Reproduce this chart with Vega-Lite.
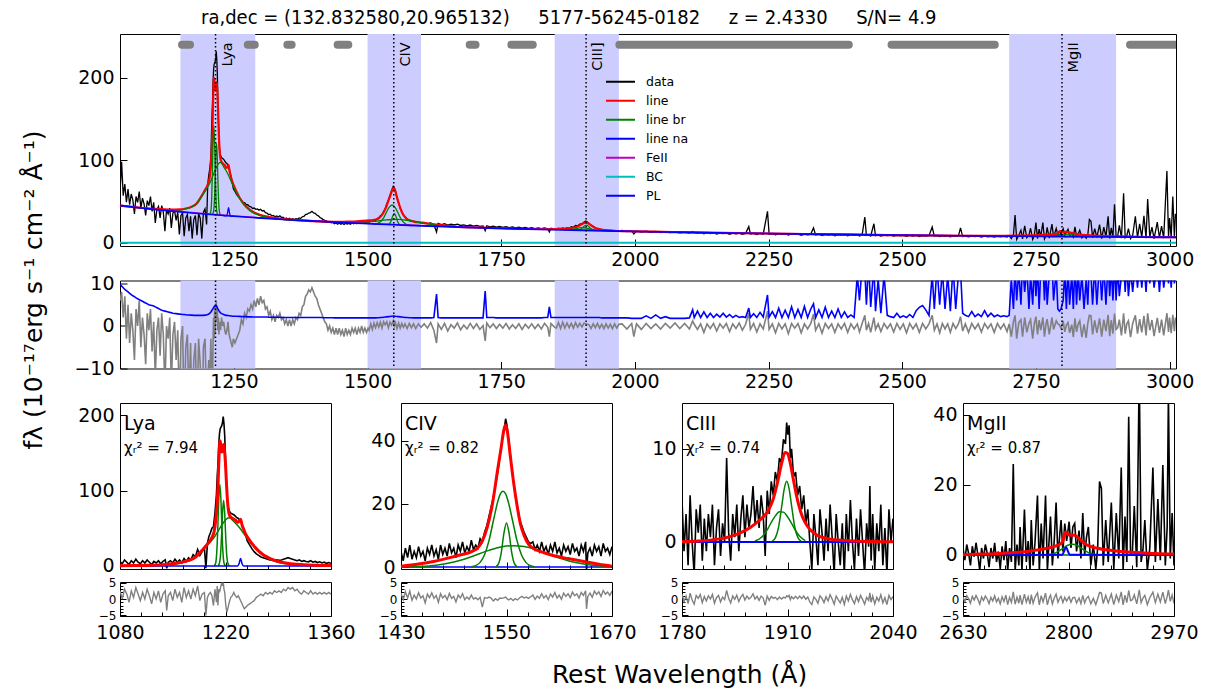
{
"$schema": "https://vega.github.io/schema/vega-lite/v6.json",
"background": "white",
"padding": {"left": 20, "top": 7, "right": 5, "bottom": 5},
"config": {
  "font": "DejaVu Sans",
  "view": {"stroke": "black", "strokeWidth": 1},
  "axis": {"domain": false, "grid": false, "tickColor": "black", "labelColor": "black", "labelFont": "DejaVu Sans", "labelFlush": false, "labelOverlap": false, "labelBound": false, "tickWidth": 1, "titleFont": "DejaVu Sans", "titleFontWeight": "normal", "titleColor": "black"},
  "text": {"font": "DejaVu Sans", "color": "black"}
},
"datasets": {
  "regions": [{"lo":1150,"hi":1290},{"lo":1500,"hi":1600},{"lo":1850,"hi":1970},{"lo":2700,"hi":2900}],
  "lines": [{"w":1215.67,"name":"Lya"},{"w":1549.06,"name":"CIV"},{"w":1908.73,"name":"CIII]"},{"w":2798.75,"name":"MgII"}],
  "mask": [{"s":1,"w":1153},{"s":1,"w":1168},{"s":2,"w":1276},{"s":2,"w":1289},{"s":3,"w":1350},{"s":3,"w":1358},{"s":4,"w":1444},{"s":4,"w":1464},{"s":5,"w":1691},{"s":5,"w":1702},{"s":6,"w":1769},{"s":6,"w":1809},{"s":7,"w":1971},{"s":7,"w":2400},{"s":8,"w":2480},{"s":8,"w":2673},{"s":9,"w":2926},{"s":9,"w":3040}],
  "spec": [
{"w":1037,"f":60,"r":6,"e":9.8},{"w":1040,"f":98,"r":8,"e":9.4},{"w":1043,"f":57,"r":2,"e":9.0},{"w":1046,"f":71,"r":7,"e":8.6},{"w":1049,"f":49,"r":-3,"e":8.3},{"w":1052,"f":65,"r":5,"e":8.0},{"w":1055,"f":46,"r":-4,"e":7.7},{"w":1058,"f":59,"r":3,"e":7.4},{"w":1061,"f":52,"r":-1,"e":7.1},{"w":1064,"f":35,"r":-8,"e":6.9},{"w":1067,"f":56,"r":4,"e":6.6},{"w":1070,"f":49,"r":0,"e":6.4},{"w":1073,"f":62,"r":6,"e":6.2},{"w":1076,"f":42,"r":-5,"e":6.0},{"w":1079,"f":54,"r":2,"e":5.8},{"w":1082,"f":47,"r":-2,"e":5.6},{"w":1085,"f":33,"r":-9,"e":5.4},{"w":1088,"f":51,"r":3,"e":5.2},{"w":1091,"f":45,"r":-1,"e":5.0},{"w":1094,"f":56,"r":4,"e":4.9},{"w":1097,"f":38,"r":-6,"e":4.8},{"w":1100,"f":49,"r":1,"e":4.7},{"w":1103,"f":24,"r":-12,"e":4.5},{"w":1106,"f":40,"r":-1,"e":4.3},{"w":1109,"f":44,"r":2,"e":4.1},{"w":1112,"f":30,"r":-7,"e":3.9},{"w":1115,"f":45,"r":3,"e":3.7},{"w":1118,"f":37,"r":-2,"e":3.6},{"w":1121,"f":14,"r":-15,"e":3.5},{"w":1124,"f":40,"r":0,"e":3.4},{"w":1127,"f":35,"r":-3,"e":3.3},{"w":1130,"f":42,"r":2,"e":3.2},{"w":1133,"f":18,"r":-14,"e":3.1},{"w":1136,"f":36,"r":-2,"e":3.0},{"w":1139,"f":39,"r":1,"e":2.95},{"w":1142,"f":27,"r":-8,"e":2.9},{"w":1145,"f":37,"r":-1,"e":2.85},{"w":1148,"f":10,"r":-20,"e":2.8},{"w":1151,"f":33,"r":-3,"e":2.75},{"w":1154,"f":36,"r":0,"e":2.7},{"w":1157,"f":8,"r":-22,"e":2.7},{"w":1160,"f":30,"r":-5,"e":2.65},{"w":1163,"f":34,"r":-2,"e":2.6},{"w":1166,"f":14,"r":-18,"e":2.6},{"w":1169,"f":32,"r":-4,"e":2.55},{"w":1172,"f":5,"r":-25,"e":2.55},{"w":1175,"f":28,"r":-8,"e":2.5},{"w":1178,"f":33,"r":-4,"e":2.5},{"w":1181,"f":9,"r":-22,"e":2.5},{"w":1184,"f":35,"r":-3,"e":2.5},{"w":1187,"f":30,"r":-9,"e":2.5},{"w":1190,"f":5,"r":-30,"e":2.5},{"w":1193,"f":37,"r":-5,"e":2.5},{"w":1196,"f":41,"r":-3,"e":2.55},{"w":1199,"f":22,"r":-18,"e":2.6},
{"w":1201,"f":70,"r":-14,"e":2.7},{"w":1203,"f":82,"r":-8,"e":2.8},{"w":1205,"f":90,"r":-12,"e":3.0},{"w":1207,"f":104,"r":-3,"e":3.3},{"w":1208,"f":129,"r":-11,"e":3.5},{"w":1209,"f":152,"r":-6,"e":3.7},{"w":1210,"f":169,"r":-16,"e":3.9},{"w":1211,"f":194,"r":-4,"e":4.1},{"w":1212,"f":209,"r":2,"e":4.3},{"w":1213,"f":216,"r":-3,"e":4.5},{"w":1214,"f":218,"r":5,"e":4.6},{"w":1215,"f":220,"r":-2,"e":4.7},{"w":1216,"f":224,"r":3,"e":4.8},{"w":1217,"f":232,"r":6,"e":4.8},{"w":1218,"f":222,"r":1,"e":4.6},{"w":1219,"f":206,"r":4,"e":4.3},{"w":1220,"f":174,"r":-1,"e":4.0},{"w":1221,"f":151,"r":2,"e":3.8},{"w":1222,"f":129,"r":-2,"e":3.6},{"w":1223,"f":114,"r":1,"e":3.4},{"w":1225,"f":106,"r":-1,"e":3.1},{"w":1227,"f":103,"r":2,"e":2.9},{"w":1229,"f":102,"r":0,"e":2.8},{"w":1231,"f":101,"r":1,"e":2.7},{"w":1233,"f":99,"r":-1,"e":2.6},{"w":1235,"f":97,"r":-2,"e":2.5},{"w":1237,"f":96,"r":-1,"e":2.5},{"w":1239,"f":93,"r":1,"e":2.45},{"w":1241,"f":90.5,"r":-2,"e":2.4},{"w":1243,"f":84.5,"r":-3,"e":2.4},{"w":1245,"f":78.5,"r":-4,"e":2.35},{"w":1247,"f":72.5,"r":-5,"e":2.3},{"w":1249,"f":65.5,"r":-3,"e":2.3},
{"w":1252,"f":62,"r":-4,"e":2.3},{"w":1255,"f":58.5,"r":-3,"e":2.3},{"w":1258,"f":56,"r":-2,"e":2.25},{"w":1261,"f":53.5,"r":-1,"e":2.25},{"w":1264,"f":51.5,"r":1.5,"e":2.2},{"w":1267,"f":49,"r":0.5,"e":2.2},{"w":1270,"f":48.5,"r":3,"e":2.2},{"w":1273,"f":46,"r":2,"e":2.2},{"w":1276,"f":46,"r":4,"e":2.15},{"w":1279,"f":44,"r":3.5,"e":2.15},{"w":1282,"f":43.5,"r":5,"e":2.15},{"w":1285,"f":41.5,"r":4,"e":2.1},{"w":1288,"f":42,"r":6,"e":2.1},{"w":1291,"f":40.5,"r":4.5,"e":2.1},{"w":1294,"f":41,"r":6.5,"e":2.1},{"w":1297,"f":39.5,"r":5,"e":2.1},{"w":1300,"f":40.5,"r":7,"e":2.1},{"w":1303,"f":38.5,"r":5.5,"e":2.1},{"w":1306,"f":39,"r":6,"e":2.1},{"w":1309,"f":36.5,"r":4,"e":2.1},{"w":1312,"f":36,"r":4.5,"e":2.1},{"w":1315,"f":34,"r":2.5,"e":2.05},{"w":1318,"f":34.5,"r":3.5,"e":2.05},{"w":1321,"f":32.5,"r":1.5,"e":2.05},{"w":1324,"f":33,"r":2.5,"e":2.05},{"w":1327,"f":31.5,"r":1,"e":2.05},{"w":1330,"f":32.5,"r":2.5,"e":2.05},{"w":1333,"f":31.5,"r":2,"e":2.05},{"w":1336,"f":32.5,"r":3,"e":2.05},{"w":1339,"f":30.5,"r":1.5,"e":2.0},{"w":1342,"f":31,"r":2,"e":2.0},{"w":1345,"f":29,"r":0.5,"e":2.0},{"w":1348,"f":30,"r":1.5,"e":2.0},{"w":1351,"f":28.5,"r":0,"e":2.0},{"w":1354,"f":29.5,"r":1.5,"e":2.0},{"w":1357,"f":28,"r":0,"e":2.0},{"w":1360,"f":29,"r":1.5,"e":2.0},{"w":1363,"f":28,"r":0.5,"e":2.0},{"w":1366,"f":29,"r":2,"e":2.0},{"w":1369,"f":28.5,"r":1.5,"e":2.0},{"w":1372,"f":30,"r":3,"e":2.0},{"w":1375,"f":29.5,"r":2.5,"e":2.0},{"w":1378,"f":31.5,"r":4.5,"e":2.0},{"w":1381,"f":32,"r":5,"e":2.0},{"w":1384,"f":34,"r":7,"e":2.0},{"w":1387,"f":34.5,"r":7.5,"e":2.0},{"w":1390,"f":36,"r":8.5,"e":2.0},{"w":1393,"f":36.5,"r":8,"e":2.0},{"w":1396,"f":38,"r":9,"e":2.0},{"w":1399,"f":36,"r":8,"e":2.0},{"w":1402,"f":35.5,"r":7,"e":2.0},{"w":1405,"f":33.5,"r":6.5,"e":2.0},{"w":1408,"f":32.5,"r":5,"e":2.0},{"w":1411,"f":30.5,"r":4,"e":2.0},{"w":1414,"f":29.5,"r":3,"e":2.0},{"w":1417,"f":28,"r":2,"e":1.95},{"w":1420,"f":27,"r":1,"e":1.95},{"w":1423,"f":26.5,"r":0.5,"e":1.95},{"w":1426,"f":25,"r":-1,"e":1.95},{"w":1429,"f":25.5,"r":0,"e":1.95},{"w":1432,"f":24,"r":-1.5,"e":1.95},{"w":1435,"f":24.5,"r":-0.5,"e":1.95},{"w":1438,"f":23,"r":-2,"e":1.9},{"w":1441,"f":24,"r":-0.5,"e":1.9},{"w":1444,"f":22.5,"r":-2,"e":1.9},{"w":1447,"f":24,"r":-0.5,"e":1.9},{"w":1450,"f":22.5,"r":-2,"e":1.9},{"w":1453,"f":23.5,"r":-1,"e":1.9},{"w":1456,"f":22,"r":-2.5,"e":1.9},{"w":1459,"f":23.5,"r":-0.5,"e":1.9},{"w":1462,"f":22.5,"r":-2,"e":1.9},{"w":1465,"f":23.5,"r":-1,"e":1.9},{"w":1468,"f":22.5,"r":-2,"e":1.9},{"w":1471,"f":24,"r":-0.5,"e":1.9},{"w":1474,"f":23,"r":-1.5,"e":1.9},{"w":1477,"f":24,"r":-0.5,"e":1.9},{"w":1480,"f":23,"r":-2,"e":1.9},{"w":1483,"f":24.5,"r":-0.5,"e":1.9},{"w":1486,"f":23.5,"r":-1.5,"e":1.9},{"w":1489,"f":25,"r":0,"e":1.9},{"w":1492,"f":24,"r":-1.5,"e":1.9},{"w":1495,"f":25,"r":-0.5,"e":1.9},{"w":1498,"f":24.5,"r":-1.5,"e":1.9},{"w":1501,"f":25.5,"r":-0.5,"e":1.9},
{"w":1503,"f":24.8,"r":-1,"e":1.9},{"w":1506,"f":26.4,"r":0.5,"e":1.9},{"w":1509,"f":25.6,"r":-0.8,"e":1.9},{"w":1512,"f":27.5,"r":0.7,"e":1.9},{"w":1515,"f":27.2,"r":-0.4,"e":1.9},{"w":1518,"f":29.3,"r":0.8,"e":1.95},{"w":1521,"f":30.2,"r":-0.3,"e":1.95},{"w":1524,"f":32.6,"r":0.9,"e":2.0},{"w":1527,"f":34,"r":-0.5,"e":2.0},{"w":1530,"f":37.9,"r":1,"e":2.05},{"w":1533,"f":41.4,"r":0.3,"e":2.1},{"w":1536,"f":46.8,"r":1,"e":2.15},{"w":1539,"f":51.8,"r":-0.4,"e":2.2},{"w":1542,"f":57.7,"r":0.9,"e":2.25},{"w":1545,"f":63.2,"r":0.2,"e":2.3},{"w":1548,"f":68.2,"r":1.2,"e":2.35},{"w":1550,"f":65.6,"r":0,"e":2.35},{"w":1552,"f":62.6,"r":0.8,"e":2.3},{"w":1555,"f":54.5,"r":-0.6,"e":2.25},{"w":1558,"f":48.4,"r":0.7,"e":2.2},{"w":1561,"f":41.8,"r":-0.5,"e":2.15},{"w":1564,"f":37.7,"r":0.6,"e":2.1},{"w":1567,"f":33.6,"r":-0.3,"e":2.05},{"w":1570,"f":31.5,"r":0.5,"e":2.0},{"w":1574,"f":27.9,"r":-0.6,"e":2.0},{"w":1578,"f":27.3,"r":0.6,"e":1.95},{"w":1582,"f":25.9,"r":-0.4,"e":1.95},{"w":1586,"f":25.8,"r":0.5,"e":1.9},{"w":1590,"f":24.4,"r":-0.6,"e":1.9},{"w":1595,"f":25,"r":0.5,"e":1.9},{"w":1600,"f":24.2,"r":-0.3,"e":1.9},
{"w":1606,"f":24.5,"r":0.5,"e":1.9},{"w":1612,"f":23.2,"r":-0.5,"e":1.9},{"w":1618,"f":24.0,"r":0.8,"e":1.9},{"w":1624,"f":22.1,"r":-1.0,"e":2.0},{"w":1629,"f":13.0,"r":-4.0,"e":7.5},{"w":1632,"f":23.5,"r":0.5,"e":2.0},{"w":1638,"f":22.0,"r":-0.8,"e":1.9},{"w":1644,"f":23.1,"r":0.6,"e":1.9},{"w":1650,"f":21.4,"r":-1.2,"e":1.9},{"w":1656,"f":22.6,"r":0.3,"e":1.9},{"w":1662,"f":21.5,"r":-0.5,"e":1.9},{"w":1668,"f":22.4,"r":0.7,"e":1.9},{"w":1674,"f":20.9,"r":-0.9,"e":1.9},{"w":1680,"f":21.6,"r":0.2,"e":1.9},{"w":1686,"f":20.5,"r":-0.7,"e":1.9},{"w":1692,"f":21.4,"r":0.6,"e":1.9},{"w":1698,"f":20.2,"r":-0.6,"e":1.9},{"w":1704,"f":21.0,"r":0.5,"e":1.9},{"w":1710,"f":19.7,"r":-0.8,"e":1.9},{"w":1716,"f":20.3,"r":0.1,"e":1.9},{"w":1720,"f":14.5,"r":-3.5,"e":8.2},{"w":1723,"f":20.6,"r":0.7,"e":2.0},{"w":1729,"f":19.3,"r":-0.4,"e":2.0},{"w":1735,"f":20.0,"r":0.5,"e":2.0},{"w":1741,"f":18.8,"r":-0.6,"e":1.9},{"w":1747,"f":19.6,"r":0.4,"e":1.9},{"w":1753,"f":18.5,"r":-0.5,"e":1.9},{"w":1759,"f":19.4,"r":0.6,"e":1.9},{"w":1765,"f":18.2,"r":-0.7,"e":1.9},{"w":1771,"f":19.0,"r":0.3,"e":1.9},{"w":1777,"f":18.0,"r":-0.6,"e":1.9},{"w":1783,"f":18.9,"r":0.5,"e":1.9},{"w":1789,"f":17.7,"r":-0.8,"e":1.9},{"w":1795,"f":18.6,"r":0.4,"e":1.9},{"w":1801,"f":17.5,"r":-0.5,"e":1.9},{"w":1807,"f":18.2,"r":0.5,"e":1.9},{"w":1813,"f":17.2,"r":-0.6,"e":1.9},{"w":1819,"f":18.0,"r":0.4,"e":1.9},{"w":1825,"f":17.0,"r":-0.7,"e":1.9},{"w":1831,"f":17.8,"r":0.6,"e":2.0},{"w":1837,"f":16.9,"r":-0.3,"e":2.0},{"w":1840,"f":13.0,"r":-2.5,"e":4.5},{"w":1843,"f":17.5,"r":0.6,"e":2.0},{"w":1849,"f":16.8,"r":-0.2,"e":2.0},
{"w":1853,"f":15.8,"r":-0.5,"e":2.0},{"w":1857,"f":17.5,"r":0.8,"e":2.0},{"w":1861,"f":16.2,"r":-0.6,"e":2.0},{"w":1865,"f":17.9,"r":0.9,"e":2.0},{"w":1869,"f":16.5,"r":-0.5,"e":2.0},{"w":1873,"f":18.3,"r":0.7,"e":2.0},{"w":1877,"f":17.6,"r":-0.4,"e":2.0},{"w":1881,"f":19.5,"r":0.6,"e":2.0},{"w":1885,"f":18.6,"r":-0.5,"e":2.0},{"w":1889,"f":20.8,"r":0.8,"e":2.0},{"w":1893,"f":20.5,"r":-0.3,"e":2.0},{"w":1897,"f":22.6,"r":0.6,"e":2.0},{"w":1901,"f":23.0,"r":-0.2,"e":2.0},{"w":1905,"f":25.1,"r":0.7,"e":2.0},{"w":1908,"f":26.2,"r":0.5,"e":2.0},{"w":1911,"f":25.0,"r":0.4,"e":2.0},{"w":1914,"f":23.6,"r":0.3,"e":2.0},{"w":1918,"f":21.2,"r":-0.6,"e":2.0},{"w":1922,"f":19.8,"r":0.5,"e":2.0},{"w":1926,"f":17.9,"r":-0.4,"e":2.0},{"w":1930,"f":17.2,"r":0.6,"e":2.0},{"w":1934,"f":15.8,"r":-0.5,"e":2.0},{"w":1938,"f":16.0,"r":0.4,"e":1.9},{"w":1942,"f":14.8,"r":-0.6,"e":1.9},{"w":1946,"f":15.3,"r":0.5,"e":1.9},{"w":1950,"f":14.3,"r":-0.5,"e":1.9},{"w":1954,"f":14.9,"r":0.4,"e":1.9},{"w":1958,"f":14.0,"r":-0.6,"e":1.9},{"w":1962,"f":14.6,"r":0.5,"e":1.9},{"w":1966,"f":13.8,"r":-0.5,"e":1.9},{"w":1970,"f":14.4,"r":0.4,"e":1.9},
{"w":1976,"f":14.9,"r":0.5,"e":1.9},{"w":1985,"f":13.4,"r":-0.7,"e":1.9},{"w":1994,"f":14.5,"r":0.6,"e":1.8},{"w":1998,"f":10.5,"r":-2.5,"e":1.8},{"w":2003,"f":14.2,"r":0.5,"e":1.8},{"w":2012,"f":12.8,"r":-0.8,"e":1.8},{"w":2021,"f":13.9,"r":0.6,"e":2.4},{"w":2030,"f":12.7,"r":-0.6,"e":1.8},{"w":2039,"f":13.6,"r":0.5,"e":2.6},{"w":2048,"f":12.4,"r":-0.7,"e":1.8},{"w":2057,"f":13.4,"r":0.6,"e":2.2},{"w":2066,"f":12.2,"r":-0.5,"e":1.8},{"w":2075,"f":13.1,"r":0.7,"e":1.8},{"w":2084,"f":11.9,"r":-0.6,"e":1.8},{"w":2093,"f":12.9,"r":0.6,"e":1.8},{"w":2102,"f":11.7,"r":-0.7,"e":1.9},{"w":2108,"f":13.5,"r":1.2,"e":3.8},{"w":2111,"f":12.4,"r":0.4,"e":2.0},{"w":2117,"f":11.4,"r":-0.8,"e":3.5},{"w":2123,"f":12.5,"r":0.5,"e":2.0},{"w":2129,"f":10.8,"r":-1.5,"e":3.3},{"w":2135,"f":12.3,"r":0.5,"e":2.0},{"w":2141,"f":11.2,"r":-0.6,"e":3.0},{"w":2147,"f":12.2,"r":0.6,"e":2.0},{"w":2153,"f":10.5,"r":-1.2,"e":2.8},{"w":2159,"f":11.9,"r":0.5,"e":2.1},{"w":2165,"f":11.0,"r":-0.5,"e":3.0},{"w":2171,"f":11.9,"r":0.6,"e":2.1},{"w":2177,"f":10.3,"r":-1.3,"e":2.7},{"w":2183,"f":11.7,"r":0.5,"e":2.0},{"w":2189,"f":10.8,"r":-0.6,"e":2.5},{"w":2195,"f":11.6,"r":0.7,"e":2.0},{"w":2201,"f":10.2,"r":-1.0,"e":2.2},{"w":2207,"f":11.3,"r":0.4,"e":2.0},{"w":2213,"f":19.5,"r":3.0,"e":4.2},{"w":2216,"f":10.6,"r":-0.8,"e":2.0},{"w":2222,"f":11.4,"r":0.6,"e":2.9},{"w":2228,"f":9.8,"r":-1.4,"e":2.0},{"w":2234,"f":11.2,"r":0.5,"e":3.2},{"w":2240,"f":10.3,"r":-0.7,"e":2.1},{"w":2248,"f":38.0,"r":3.5,"e":7.3},{"w":2251,"f":10.2,"r":-0.8,"e":2.1},{"w":2257,"f":11.1,"r":0.5,"e":3.4},{"w":2263,"f":9.6,"r":-1.6,"e":2.0},{"w":2269,"f":11.0,"r":0.6,"e":4.2},{"w":2275,"f":10.1,"r":-0.7,"e":2.0},{"w":2281,"f":10.9,"r":0.5,"e":3.7},{"w":2287,"f":9.2,"r":-1.8,"e":2.0},{"w":2293,"f":10.8,"r":0.6,"e":4.5},{"w":2299,"f":10.0,"r":-0.5,"e":2.0},{"w":2305,"f":10.7,"r":0.6,"e":3.9},{"w":2311,"f":8.9,"r":-1.6,"e":2.0},{"w":2317,"f":10.5,"r":0.5,"e":4.6},{"w":2323,"f":9.6,"r":-0.7,"e":2.0},{"w":2329,"f":10.4,"r":0.6,"e":4.0},{"w":2334,"f":18.0,"r":2.8,"e":5.2},{"w":2338,"f":9.3,"r":-1.0,"e":2.0},{"w":2344,"f":10.3,"r":0.5,"e":3.8},{"w":2350,"f":8.6,"r":-1.7,"e":2.0},{"w":2356,"f":10.1,"r":0.6,"e":4.4},{"w":2362,"f":9.3,"r":-0.6,"e":2.0},{"w":2368,"f":10.0,"r":0.5,"e":3.5},{"w":2374,"f":8.5,"r":-1.5,"e":2.0},{"w":2380,"f":9.9,"r":0.5,"e":4.0},{"w":2386,"f":9.1,"r":-0.7,"e":2.0},{"w":2392,"f":9.8,"r":0.6,"e":3.3},{"w":2398,"f":8.3,"r":-1.5,"e":2.0},{"w":2404,"f":9.7,"r":0.5,"e":2.6},{"w":2410,"f":8.9,"r":-0.7,"e":2.0},{"w":2416,"f":9.6,"r":0.5,"e":12},{"w":2420,"f":8.2,"r":-1.4,"e":6.0},{"w":2425,"f":9.5,"r":0.6,"e":14},{"w":2430,"f":31.0,"r":2.5,"e":13},{"w":2433,"f":8.8,"r":-1.0,"e":5},{"w":2437,"f":9.5,"r":0.6,"e":15},{"w":2441,"f":8.2,"r":-1.5,"e":4.5},{"w":2447,"f":23.0,"r":2.0,"e":14},{"w":2450,"f":8.6,"r":-0.8,"e":3.5},{"w":2455,"f":9.4,"r":0.5,"e":11},{"w":2460,"f":8.1,"r":-1.3,"e":3.0},{"w":2466,"f":9.3,"r":0.6,"e":12},{"w":2472,"f":8.5,"r":-0.6,"e":2.5},{"w":2478,"f":9.2,"r":0.5,"e":2.2},{"w":2484,"f":7.9,"r":-1.4,"e":2.0},{"w":2490,"f":9.0,"r":0.6,"e":3.0},{"w":2496,"f":8.2,"r":-0.8,"e":2.0},{"w":2502,"f":9.0,"r":0.5,"e":2.4},{"w":2508,"f":7.7,"r":-1.6,"e":2.0},{"w":2514,"f":8.9,"r":0.6,"e":2.7},{"w":2520,"f":8.1,"r":-0.7,"e":2.0},{"w":2526,"f":8.8,"r":0.5,"e":3.6},{"w":2532,"f":7.5,"r":-1.5,"e":4.4},{"w":2538,"f":8.7,"r":0.6,"e":4.8},{"w":2544,"f":7.9,"r":-0.7,"e":3.8},{"w":2550,"f":8.6,"r":0.5,"e":2.5},{"w":2556,"f":19.0,"r":2.5,"e":12},{"w":2560,"f":7.8,"r":-1.0,"e":4.0},{"w":2565,"f":8.5,"r":0.5,"e":14},{"w":2570,"f":7.3,"r":-1.6,"e":5.0},{"w":2575,"f":8.4,"r":0.6,"e":13},{"w":2580,"f":7.7,"r":-0.7,"e":4.0},{"w":2585,"f":8.4,"r":0.5,"e":12},{"w":2590,"f":7.2,"r":-1.5,"e":3.5},{"w":2595,"f":8.3,"r":0.6,"e":14},{"w":2600,"f":7.6,"r":-0.6,"e":4.0},{"w":2605,"f":8.2,"r":0.5,"e":12},{"w":2609,"f":18.0,"r":2.2,"e":13},{"w":2613,"f":7.4,"r":-1.2,"e":3.0},{"w":2618,"f":8.1,"r":0.5,"e":2.5},{"w":2624,"f":7.0,"r":-1.5,"e":2.2},{"w":2630,"f":8.0,"r":0.6,"e":3.4},{"w":2636,"f":7.3,"r":-0.7,"e":2.2},{"w":2642,"f":8.0,"r":0.5,"e":2.8},{"w":2648,"f":6.9,"r":-1.4,"e":2.2},{"w":2654,"f":7.9,"r":0.6,"e":3.6},{"w":2660,"f":7.2,"r":-0.6,"e":2.2},{"w":2666,"f":7.8,"r":0.5,"e":3.0},{"w":2672,"f":6.8,"r":-1.5,"e":2.2},{"w":2678,"f":7.7,"r":0.6,"e":2.6},{"w":2684,"f":7.1,"r":-0.7,"e":2.2},{"w":2690,"f":7.6,"r":0.5,"e":2.4},{"w":2696,"f":6.7,"r":-1.3,"e":2.2},
{"w":2700,"f":8.5,"r":0.5,"e":2.5},{"w":2704,"f":5.0,"r":-2.5,"e":11},{"w":2708,"f":9.5,"r":1.0,"e":4},{"w":2711,"f":33.5,"r":2.5,"e":14},{"w":2714,"f":4.0,"r":-3.0,"e":6},{"w":2718,"f":9.0,"r":0.8,"e":13},{"w":2722,"f":15.0,"r":1.5,"e":5},{"w":2725,"f":4.5,"r":-2.5,"e":15},{"w":2729,"f":20.5,"r":2.0,"e":8},{"w":2733,"f":6.0,"r":-1.5,"e":14},{"w":2737,"f":9.5,"r":0.6,"e":4},{"w":2740,"f":17.5,"r":1.5,"e":12},{"w":2744,"f":4.0,"r":-3.0,"e":5},{"w":2747,"f":9.0,"r":0.5,"e":15},{"w":2750,"f":24.5,"r":2.2,"e":7},{"w":2753,"f":5.0,"r":-2.0,"e":14},{"w":2756,"f":16.5,"r":1.4,"e":4},{"w":2759,"f":7.0,"r":-1.0,"e":13},{"w":2763,"f":24.5,"r":2.0,"e":15},{"w":2766,"f":4.5,"r":-2.5,"e":6},{"w":2769,"f":8.8,"r":0.6,"e":14},{"w":2771,"f":18.5,"r":1.6,"e":5},{"w":2775,"f":5.5,"r":-2.0,"e":12},{"w":2780,"f":22.5,"r":2.0,"e":15},{"w":2783,"f":7.0,"r":-0.8,"e":6},{"w":2788,"f":17.4,"r":1.2,"e":13},{"w":2791,"f":9.5,"r":0.5,"e":4},{"w":2794,"f":13.5,"r":0.3,"e":3.5},{"w":2797,"f":10.5,"r":-0.6,"e":4},{"w":2801,"f":16.9,"r":1.2,"e":6},{"w":2804,"f":9.0,"r":-1.4,"e":13},{"w":2807,"f":12.5,"r":0.2,"e":4},{"w":2810,"f":16.3,"r":0.8,"e":14},{"w":2813,"f":8.5,"r":-1.6,"e":5},{"w":2817,"f":11.5,"r":0.3,"e":12},{"w":2820,"f":7.0,"r":-2.6,"e":4},{"w":2823,"f":19.2,"r":1.8,"e":15},{"w":2826,"f":8.0,"r":-1.4,"e":5},{"w":2829,"f":10.5,"r":0.4,"e":13},{"w":2832,"f":15.2,"r":1.2,"e":6},{"w":2836,"f":6.0,"r":-2.6,"e":12},{"w":2840,"f":9.5,"r":0.4,"e":4},{"w":2844,"f":5.5,"r":-2.8,"e":11},{"w":2847,"f":9.0,"r":0.6,"e":5},{"w":2850,"f":28.2,"r":2.5,"e":15},{"w":2853,"f":26.0,"r":2.4,"e":12},{"w":2856,"f":6.0,"r":-2.0,"e":5},{"w":2860,"f":17.1,"r":1.3,"e":14},{"w":2864,"f":6.5,"r":-1.6,"e":5},{"w":2869,"f":22.0,"r":1.8,"e":15},{"w":2873,"f":5.0,"r":-2.5,"e":6},{"w":2877,"f":19.0,"r":1.5,"e":14},{"w":2881,"f":7.0,"r":-1.2,"e":5},{"w":2885,"f":32.0,"r":2.6,"e":15},{"w":2888,"f":5.0,"r":-2.4,"e":7},{"w":2891,"f":18.0,"r":1.4,"e":14},{"w":2894,"f":6.0,"r":-1.8,"e":6},{"w":2897,"f":46.5,"r":2.9,"e":15},{"w":2900,"f":7.5,"r":-0.8,"e":6},{"w":2903,"f":8.0,"r":-0.4,"e":14},{"w":2906,"f":21.0,"r":1.5,"e":7},{"w":2910,"f":5.5,"r":-2.2,"e":12},{"w":2914,"f":60.0,"r":3.0,"e":15},{"w":2917,"f":6.0,"r":-1.8,"e":8},{"w":2920,"f":8.5,"r":0.5,"e":15},{"w":2923,"f":17.0,"r":1.2,"e":7},{"w":2927,"f":5.0,"r":-2.6,"e":13},{"w":2931,"f":9.0,"r":0.6,"e":8},{"w":2936,"f":32.0,"r":2.5,"e":15},{"w":2940,"f":6.0,"r":-1.8,"e":9},{"w":2944,"f":23.0,"r":1.6,"e":15},{"w":2948,"f":6.5,"r":-1.5,"e":9},{"w":2952,"f":32.7,"r":2.4,"e":15},{"w":2956,"f":5.5,"r":-2.2,"e":8},{"w":2959,"f":53.0,"r":3.0,"e":15},{"w":2963,"f":7.0,"r":-1.0,"e":10},{"w":2967,"f":19.0,"r":1.4,"e":15},{"w":2971,"f":5.0,"r":-2.4,"e":9},{"w":2977,"f":25.0,"r":1.9,"e":15},{"w":2981,"f":6.0,"r":-1.6,"e":8},{"w":2985,"f":20.0,"r":1.5,"e":15},{"w":2989,"f":5.5,"r":-2.2,"e":9},{"w":2995,"f":87.0,"r":3.0,"e":15},{"w":2998,"f":6.5,"r":-1.4,"e":10},{"w":3000,"f":30.0,"r":2.0,"e":15},{"w":3003,"f":6.0,"r":-1.7,"e":9},{"w":3006,"f":56.0,"r":2.6,"e":15},{"w":3009,"f":6.5,"r":-1.2,"e":10},{"w":3011,"f":35.0,"r":2.0,"e":13}
  ],
  "t_line": [{"w":1037,"f":45.0},{"w":1080,"f":42.1},{"w":1100,"f":41.0},{"w":1120,"f":40.3},{"w":1140,"f":40.2},{"w":1150,"f":40.3},{"w":1160,"f":41.4},{"w":1170,"f":43.4},{"w":1180,"f":47.3},{"w":1190,"f":57.1},{"w":1195,"f":62.8},{"w":1200,"f":68.5},{"w":1203,"f":74.4},{"w":1205,"f":80.3},{"w":1207,"f":94.2},{"w":1209,"f":119.2},{"w":1210,"f":139.1},{"w":1211,"f":169.1},{"w":1212,"f":192.1},{"w":1212.5,"f":200.1},{"w":1213,"f":199},{"w":1214,"f":190.9},{"w":1215,"f":184.8},{"w":1216,"f":186.8},{"w":1217,"f":192.7},{"w":1217.5,"f":194.7},{"w":1218,"f":192.6},{"w":1219,"f":183.6},{"w":1220,"f":168.6},{"w":1221,"f":148.6},{"w":1222,"f":129.5},{"w":1223,"f":115.4},{"w":1224,"f":106.4},{"w":1225,"f":101.3},{"w":1226,"f":99.2},{"w":1228,"f":97.1},{"w":1230,"f":95.5},{"w":1233,"f":93.9},{"w":1236,"f":90.7},{"w":1238,"f":91.6},{"w":1240,"f":94.5},{"w":1242,"f":86.4},{"w":1244,"f":81.3},{"w":1246,"f":76.3},{"w":1248,"f":72.2},{"w":1250,"f":69},{"w":1255,"f":61.8},{"w":1260,"f":55.5},{"w":1265,"f":50.2},{"w":1270,"f":45.9},{"w":1275,"f":42.6},{"w":1280,"f":39.9},{"w":1290,"f":35.9},{"w":1300,"f":33.6},{"w":1310,"f":31.9},{"w":1320,"f":30.7},{"w":1340,"f":28.9},{"w":1360,"f":27.7},{"w":1400,"f":26.2},{"w":1430,"f":25.2},{"w":1450,"f":25.2},{"w":1467,"f":25.6},{"w":1480,"f":26.0},{"w":1498,"f":26.9},{"w":1511,"f":27.5},{"w":1517,"f":28.3},{"w":1522,"f":30.2},{"w":1528,"f":34.5},{"w":1534,"f":41.9},{"w":1540,"f":52.8},{"w":1544,"f":59.7},{"w":1547,"f":65.2},{"w":1549,"f":66.7},{"w":1551,"f":64.6},{"w":1554,"f":57.5},{"w":1558,"f":48.4},{"w":1562,"f":40.8},{"w":1566,"f":34.7},{"w":1570,"f":31.0},{"w":1575,"f":28.2},{"w":1580,"f":26.8},{"w":1590,"f":25.3},{"w":1600,"f":24.3},{"w":1620,"f":22.7},{"w":1638,"f":21.4},{"w":1655,"f":20.0},{"w":1670,"f":19.0},{"w":1700,"f":18.4},{"w":1750,"f":17.5},{"w":1800,"f":16.6},{"w":1840,"f":16.4},{"w":1855,"f":16.65},{"w":1865,"f":16.95},{"w":1875,"f":17.5},{"w":1885,"f":18.25},{"w":1892,"f":19.45},{"w":1898,"f":21.4},{"w":1903,"f":23.35},{"w":1907,"f":24.4},{"w":1910,"f":24.3},{"w":1913,"f":23.35},{"w":1917,"f":21.5},{"w":1921,"f":19.65},{"w":1926,"f":17.9},{"w":1931,"f":16.75},{"w":1937,"f":15.85},{"w":1945,"f":15.15},{"w":1960,"f":14.5},{"w":1980,"f":14.05},{"w":2000,"f":13.7},{"w":2200,"f":11.5},{"w":2400,"f":9.8},{"w":2600,"f":8.45},{"w":2690,"f":8.4},{"w":2720,"f":8.6},{"w":2745,"f":8.95},{"w":2765,"f":9.45},{"w":2780,"f":10.1},{"w":2788,"f":10.75},{"w":2791,"f":11.45},{"w":2793,"f":13.05},{"w":2795,"f":14.05},{"w":2797,"f":13.8},{"w":2800,"f":13.2},{"w":2805,"f":13.1},{"w":2810,"f":12.95},{"w":2815,"f":12.35},{"w":2820,"f":11.5},{"w":2826,"f":10.6},{"w":2833,"f":9.85},{"w":2845,"f":9.2},{"w":2860,"f":8.6},{"w":2880,"f":8.1},{"w":2910,"f":7.55},{"w":2940,"f":7.1},{"w":2970,"f":6.85},{"w":3012,"f":6.7}],
  "t_br": [{"c":"a","w":1205,"f":34.4},{"c":"a","w":1207,"f":38.3},{"c":"a","w":1208.5,"f":54.2},{"c":"a","w":1210,"f":90.1},{"c":"a","w":1211,"f":120.1},{"c":"a","w":1212.5,"f":142.0},{"c":"a","w":1214,"f":119.9},{"c":"a","w":1215,"f":89.8},{"c":"a","w":1216.5,"f":53.7},{"c":"a","w":1218,"f":37.6},{"c":"a","w":1220,"f":33.7},
    {"c":"b","w":1210,"f":34.2},{"c":"b","w":1212,"f":38.0},{"c":"b","w":1213.5,"f":49.9},{"c":"b","w":1215,"f":78.8},{"c":"b","w":1216,"f":102.7},{"c":"b","w":1217.5,"f":120.7},{"c":"b","w":1219,"f":102.6},{"c":"b","w":1220,"f":78.6},{"c":"b","w":1221.5,"f":49.5},{"c":"b","w":1223,"f":37.4},{"c":"b","w":1225,"f":33.4},
    {"c":"c","w":1140,"f":39.2},{"c":"c","w":1150,"f":39.6},{"c":"c","w":1160,"f":41},{"c":"c","w":1170,"f":43},{"c":"c","w":1180,"f":47},{"c":"c","w":1190,"f":56.2},{"c":"c","w":1200,"f":66.5},{"c":"c","w":1205,"f":72.3},{"c":"c","w":1210,"f":80.1},{"c":"c","w":1215,"f":87.8},{"c":"c","w":1220,"f":94.6},{"c":"c","w":1224,"f":97.4},{"c":"c","w":1227,"f":96.2},{"c":"c","w":1230,"f":93},{"c":"c","w":1235,"f":87.8},{"c":"c","w":1240,"f":81.5},{"c":"c","w":1245,"f":74.2},{"c":"c","w":1250,"f":67},{"c":"c","w":1260,"f":54.5},{"c":"c","w":1270,"f":44.9},{"c":"c","w":1280,"f":38.9},{"c":"c","w":1290,"f":34.9},{"c":"c","w":1300,"f":32.6},{"c":"c","w":1320,"f":29.9},{"c":"c","w":1340,"f":28.3},{"c":"c","w":1360,"f":27.3},
    {"c":"d","w":1510,"f":22.6},{"c":"d","w":1515,"f":22.8},{"c":"d","w":1520,"f":23.7},{"c":"d","w":1525,"f":26.0},{"c":"d","w":1530,"f":30.2},{"c":"d","w":1535,"f":36.5},{"c":"d","w":1540,"f":42.5},{"c":"d","w":1546,"f":45.7},{"c":"d","w":1552,"f":42.3},{"c":"d","w":1557,"f":36.0},{"c":"d","w":1562,"f":29.6},{"c":"d","w":1567,"f":25.0},{"c":"d","w":1572,"f":22.4},{"c":"d","w":1577,"f":21.4},{"c":"d","w":1582,"f":20.8},
    {"c":"e","w":1538,"f":22.0},{"c":"e","w":1541,"f":22.9},{"c":"e","w":1544,"f":26.2},{"c":"e","w":1547,"f":32.3},{"c":"e","w":1550,"f":35.6},{"c":"e","w":1553,"f":32.2},{"c":"e","w":1556,"f":26.0},{"c":"e","w":1559,"f":22.5},{"c":"e","w":1562,"f":21.4},
    {"c":"f","w":1470,"f":24.4},{"c":"f","w":1490,"f":24.8},{"c":"f","w":1510,"f":25.8},{"c":"f","w":1530,"f":27.25},{"c":"f","w":1545,"f":28.15},{"c":"f","w":1558,"f":28.2},{"c":"f","w":1570,"f":27.5},{"c":"f","w":1590,"f":25.4},{"c":"f","w":1610,"f":23.0},{"c":"f","w":1630,"f":21.05},{"c":"f","w":1650,"f":19.7},
    {"c":"g","w":1891,"f":15.1},{"c":"g","w":1895,"f":15.4},{"c":"g","w":1899,"f":16.6},{"c":"g","w":1903,"f":18.8},{"c":"g","w":1906,"f":20.6},{"c":"g","w":1909,"f":21.4},{"c":"g","w":1912,"f":20.6},{"c":"g","w":1915,"f":18.8},{"c":"g","w":1919,"f":16.4},{"c":"g","w":1923,"f":15.2},{"c":"g","w":1927,"f":14.8},
    {"c":"h","w":1870,"f":15.2},{"c":"h","w":1878,"f":15.6},{"c":"h","w":1885,"f":16.35},{"c":"h","w":1890,"f":17.1},{"c":"h","w":1895,"f":17.75},{"c":"h","w":1900,"f":18.2},{"c":"h","w":1905,"f":18.1},{"c":"h","w":1910,"f":17.55},{"c":"h","w":1915,"f":16.8},{"c":"h","w":1920,"f":16.0},{"c":"h","w":1925,"f":15.35},{"c":"h","w":1932,"f":14.8},
    {"c":"i","w":2770,"f":7.7},{"c":"i","w":2780,"f":8.2},{"c":"i","w":2790,"f":9.2},{"c":"i","w":2798,"f":10.1},{"c":"i","w":2806,"f":10.5},{"c":"i","w":2814,"f":10.1},{"c":"i","w":2822,"f":9.1},{"c":"i","w":2832,"f":8.0},{"c":"i","w":2842,"f":7.5}],
  "t_na": [{"c":"a","w":1230,"f":33.0},{"c":"a","w":1236,"f":32.7},{"c":"a","w":1238,"f":35.6},{"c":"a","w":1240,"f":42.5},{"c":"a","w":1242,"f":35.4},{"c":"a","w":1244,"f":32.3},{"c":"a","w":1250,"f":32.0},{"c":"b","w":2780,"f":7.5},{"c":"b","w":2791,"f":7.75},{"c":"b","w":2793,"f":8.5},{"c":"b","w":2796,"f":9.6},{"c":"b","w":2799,"f":8.5},{"c":"b","w":2801,"f":7.7},{"c":"b","w":2810,"f":7.35}],
  "t_pl": [{"w":1037,"f":45.0},{"w":1080,"f":41.8},{"w":1100,"f":40.4},{"w":1150,"f":37.3},{"w":1200,"f":34.5},{"w":1250,"f":32.0},{"w":1300,"f":29.8},{"w":1350,"f":27.8},{"w":1400,"f":26.1},{"w":1500,"f":23.0},{"w":1600,"f":20.4},{"w":1700,"f":18.3},{"w":1800,"f":16.5},{"w":1900,"f":14.9},{"w":2000,"f":13.6},{"w":2200,"f":11.45},{"w":2400,"f":9.77},{"w":2600,"f":8.45},{"w":2800,"f":7.38},{"w":3012,"f":6.46}],
  "t_fe": [{"w":1037,"f":45.5},{"w":1080,"f":42.3},{"w":1100,"f":40.9},{"w":1150,"f":37.8},{"w":1200,"f":35.0},{"w":1250,"f":32.5},{"w":1300,"f":30.3},{"w":1350,"f":28.3},{"w":1400,"f":26.6},{"w":1500,"f":23.5},{"w":1600,"f":20.9},{"w":1700,"f":18.8},{"w":1800,"f":17.0},{"w":1900,"f":15.4},{"w":2000,"f":14.1},{"w":2200,"f":11.95},{"w":2400,"f":10.27},{"w":2600,"f":8.95},{"w":2800,"f":7.88},{"w":3012,"f":6.96}],
  "t_bc": [{"w":1037,"f":0},{"w":3012,"f":0}],
  "lya": [{"w":1080,"f":6,"r":2.5},{"w":1083,"f":3,"r":0},{"w":1086,"f":8,"r":3},{"w":1089,"f":5,"r":1.5},{"w":1092,"f":2,"r":-1},{"w":1095,"f":7,"r":2.5},{"w":1098,"f":4,"r":0.5},{"w":1101,"f":9,"r":3.5},{"w":1104,"f":5,"r":1.5},{"w":1107,"f":3,"r":-0.5},{"w":1110,"f":7,"r":2},{"w":1113,"f":4,"r":0},{"w":1116,"f":8,"r":3},{"w":1119,"f":5,"r":1},{"w":1122,"f":2,"r":-1.5},{"w":1125,"f":6,"r":2},{"w":1128,"f":4,"r":0},{"w":1131,"f":7,"r":2.5},{"w":1134,"f":3,"r":-1},{"w":1137,"f":6,"r":1.5},{"w":1140,"f":8,"r":2.5},{"w":1142,"f":-3,"r":-3.5},{"w":1144,"f":5,"r":1},{"w":1147,"f":7,"r":2},{"w":1150,"f":4,"r":-0.5},{"w":1153,"f":9,"r":3},{"w":1156,"f":5,"r":0.5},{"w":1159,"f":8,"r":2},{"w":1162,"f":4,"r":-1},{"w":1165,"f":10,"r":3.5},{"w":1168,"f":6,"r":0.5},{"w":1171,"f":11,"r":2.5},{"w":1174,"f":8,"r":0},{"w":1177,"f":15,"r":3},{"w":1180,"f":12,"r":1},{"w":1183,"f":22,"r":4},{"w":1186,"f":14,"r":-0.5},{"w":1189,"f":19,"r":1.5},{"w":1192,"f":24,"r":2},{"w":1194,"f":-3,"r":-5},{"w":1196,"f":30,"r":0.5},{"w":1198,"f":39,"r":1.5},{"w":1200,"f":44,"r":2},{"w":1202,"f":50,"r":1},{"w":1204,"f":52,"r":-2},{"w":1206,"f":70,"r":3},{"w":1208,"f":95,"r":-1},{"w":1209,"f":118,"r":4},{"w":1210,"f":135,"r":-2},{"w":1211,"f":160,"r":3},{"w":1212,"f":175,"r":2},{"w":1213,"f":182,"r":3},{"w":1214,"f":184,"r":4},{"w":1215,"f":186,"r":5},{"w":1216,"f":190,"r":4},{"w":1217,"f":198,"r":5},{"w":1218,"f":188,"r":3},{"w":1219,"f":172,"r":2},{"w":1220,"f":140,"r":-1},{"w":1221,"f":117,"r":-3},{"w":1222,"f":95,"r":-4},{"w":1223,"f":80,"r":-3},{"w":1225,"f":73,"r":-1},{"w":1227,"f":70,"r":0.5},{"w":1229,"f":69,"r":1},{"w":1231,"f":68,"r":2},{"w":1233,"f":66,"r":1},{"w":1235,"f":64,"r":0.5},{"w":1237,"f":63,"r":1},{"w":1239,"f":60,"r":0},{"w":1241,"f":58,"r":-1},{"w":1243,"f":52,"r":-2},{"w":1245,"f":46,"r":-3},{"w":1247,"f":40,"r":-2.5},{"w":1249,"f":33,"r":-2},{"w":1252,"f":28,"r":-1.5},{"w":1255,"f":23,"r":-1},{"w":1258,"f":19,"r":-0.5},{"w":1261,"f":16,"r":0.5},{"w":1264,"f":14,"r":1},{"w":1267,"f":12,"r":1.5},{"w":1270,"f":11,"r":1},{"w":1273,"f":10,"r":2},{"w":1276,"f":9,"r":1.5},{"w":1279,"f":8,"r":2},{"w":1282,"f":7.5,"r":1.5},{"w":1285,"f":7,"r":2.5},{"w":1288,"f":8,"r":2},{"w":1291,"f":7.5,"r":2.5},{"w":1294,"f":8,"r":2},{"w":1297,"f":9,"r":3},{"w":1300,"f":10,"r":2.5},{"w":1303,"f":11,"r":3.5},{"w":1306,"f":10,"r":3},{"w":1309,"f":9,"r":3.5},{"w":1312,"f":8,"r":2.5},{"w":1315,"f":7,"r":3},{"w":1318,"f":8,"r":2},{"w":1321,"f":6,"r":1.5},{"w":1324,"f":7,"r":2.5},{"w":1327,"f":6,"r":2},{"w":1330,"f":5.5,"r":1.5},{"w":1333,"f":7,"r":2.5},{"w":1336,"f":5,"r":1.5},{"w":1339,"f":6,"r":2},{"w":1342,"f":4.5,"r":1.5},{"w":1345,"f":5.5,"r":2},{"w":1348,"f":4,"r":1.5},{"w":1351,"f":5,"r":2},{"w":1354,"f":3.5,"r":1.5},{"w":1357,"f":4.5,"r":2},{"w":1360,"f":3.5,"r":1.5}],
  "lya_line": [{"w":1080,"f":0.3},{"w":1100,"f":0.6},{"w":1120,"f":1.0},{"w":1140,"f":2},{"w":1150,"f":3},{"w":1160,"f":4.5},{"w":1170,"f":7},{"w":1180,"f":11.5},{"w":1190,"f":22},{"w":1195,"f":28},{"w":1200,"f":34},{"w":1203,"f":40},{"w":1205,"f":46},{"w":1207,"f":60},{"w":1209,"f":85},{"w":1210,"f":105},{"w":1211,"f":135},{"w":1212,"f":158},{"w":1212.5,"f":166},{"w":1213,"f":165},{"w":1214,"f":157},{"w":1215,"f":151},{"w":1216,"f":153},{"w":1217,"f":159},{"w":1217.5,"f":161},{"w":1218,"f":159},{"w":1219,"f":150},{"w":1220,"f":135},{"w":1221,"f":115},{"w":1222,"f":96},{"w":1223,"f":82},{"w":1224,"f":73},{"w":1225,"f":68},{"w":1226,"f":66},{"w":1228,"f":64},{"w":1230,"f":62.5},{"w":1233,"f":61},{"w":1236,"f":58},{"w":1238,"f":59},{"w":1240,"f":62},{"w":1242,"f":54},{"w":1244,"f":49},{"w":1246,"f":44},{"w":1248,"f":40},{"w":1250,"f":37},{"w":1255,"f":30},{"w":1260,"f":24},{"w":1265,"f":19},{"w":1270,"f":15},{"w":1275,"f":12},{"w":1280,"f":9.5},{"w":1290,"f":6},{"w":1300,"f":4},{"w":1310,"f":2.8},{"w":1320,"f":2},{"w":1340,"f":1},{"w":1360,"f":0.5}],
  "lya_br": [{"c":"a","w":1205,"f":0.1},{"c":"a","w":1207,"f":4},{"c":"a","w":1208.5,"f":20},{"c":"a","w":1210,"f":56},{"c":"a","w":1211,"f":86},{"c":"a","w":1212.5,"f":108},{"c":"a","w":1214,"f":86},{"c":"a","w":1215,"f":56},{"c":"a","w":1216.5,"f":20},{"c":"a","w":1218,"f":4},{"c":"a","w":1220,"f":0.1},
    {"c":"b","w":1210,"f":0.1},{"c":"b","w":1212,"f":4},{"c":"b","w":1213.5,"f":16},{"c":"b","w":1215,"f":45},{"c":"b","w":1216,"f":69},{"c":"b","w":1217.5,"f":87},{"c":"b","w":1219,"f":69},{"c":"b","w":1220,"f":45},{"c":"b","w":1221.5,"f":16},{"c":"b","w":1223,"f":4},{"c":"b","w":1225,"f":0.1},
    {"c":"c","w":1080,"f":0},{"c":"c","w":1140,"f":1},{"c":"c","w":1150,"f":2},{"c":"c","w":1160,"f":4},{"c":"c","w":1170,"f":6.5},{"c":"c","w":1180,"f":11},{"c":"c","w":1190,"f":21},{"c":"c","w":1200,"f":32},{"c":"c","w":1205,"f":38},{"c":"c","w":1210,"f":46},{"c":"c","w":1215,"f":54},{"c":"c","w":1220,"f":61},{"c":"c","w":1224,"f":64},{"c":"c","w":1227,"f":63},{"c":"c","w":1230,"f":60},{"c":"c","w":1235,"f":55},{"c":"c","w":1240,"f":49},{"c":"c","w":1245,"f":42},{"c":"c","w":1250,"f":35},{"c":"c","w":1260,"f":23},{"c":"c","w":1270,"f":14},{"c":"c","w":1280,"f":8.5},{"c":"c","w":1290,"f":5},{"c":"c","w":1300,"f":3},{"c":"c","w":1320,"f":1.2},{"c":"c","w":1340,"f":0.4},{"c":"c","w":1360,"f":0.1}],
  "lya_na": [{"w":1080,"f":0},{"w":1236,"f":0},{"w":1238,"f":3},{"w":1240,"f":10},{"w":1242,"f":3},{"w":1244,"f":0},{"w":1360,"f":0}],
  "civ": [{"w":1430,"f":5,"r":1.8},{"w":1432.5,"f":2,"r":-0.2},{"w":1435,"f":6,"r":2.2},{"w":1437.5,"f":3,"r":0.3},{"w":1440,"f":7,"r":2.4},{"w":1442.5,"f":2.5,"r":-0.4},{"w":1445,"f":5,"r":1.2},{"w":1447.5,"f":3,"r":0},{"w":1450,"f":6.5,"r":1.9},{"w":1452.5,"f":3.5,"r":0.3},{"w":1455,"f":5,"r":1},{"w":1457.5,"f":2,"r":-1.2},{"w":1460,"f":6,"r":1.5},{"w":1462.5,"f":4,"r":0.4},{"w":1465,"f":7,"r":1.9},{"w":1467.5,"f":3.5,"r":0.2},{"w":1470,"f":5.5,"r":1.1},{"w":1472.5,"f":2.5,"r":-1},{"w":1475,"f":7,"r":1.6},{"w":1477.5,"f":4,"r":0.3},{"w":1480,"f":6,"r":1.1},{"w":1482.5,"f":3.5,"r":-0.2},{"w":1485,"f":7.5,"r":1.7},{"w":1487.5,"f":4.5,"r":0.2},{"w":1490,"f":6,"r":0.8},{"w":1492.5,"f":3,"r":-0.9},{"w":1495,"f":7,"r":1.2},{"w":1497.5,"f":5,"r":0.3},{"w":1500,"f":8,"r":1.6},{"w":1502.5,"f":4.5,"r":-0.2},{"w":1505,"f":6.5,"r":0.6},{"w":1507.5,"f":5,"r":-0.1},{"w":1510,"f":8.5,"r":1.2},{"w":1512.5,"f":5.5,"r":0},{"w":1515,"f":7,"r":0.4},{"w":1517.5,"f":6,"r":-0.2},{"w":1520,"f":9,"r":0.5},{"w":1522.5,"f":8,"r":-2.5},{"w":1525,"f":11,"r":0.4},{"w":1527.5,"f":13,"r":0.2},{"w":1530,"f":16,"r":0.6},{"w":1532.5,"f":19,"r":0.3},{"w":1535,"f":22,"r":-0.6},{"w":1537.5,"f":26,"r":0.1},{"w":1540,"f":30,"r":-0.4},{"w":1542.5,"f":35,"r":0.3},{"w":1545,"f":40,"r":0.2},{"w":1547.5,"f":44,"r":0.4},{"w":1549,"f":47,"r":0.6},{"w":1550.5,"f":45,"r":0.1},{"w":1552.5,"f":40,"r":-0.3},{"w":1555,"f":34,"r":0.2},{"w":1557.5,"f":28,"r":-0.5},{"w":1560,"f":23,"r":0.1},{"w":1562.5,"f":19,"r":-0.3},{"w":1565,"f":15,"r":0.4},{"w":1567.5,"f":13,"r":0.8},{"w":1570,"f":11,"r":0.3},{"w":1572.5,"f":9.5,"r":0.6},{"w":1575,"f":8,"r":0.2},{"w":1577.5,"f":7.5,"r":0.7},{"w":1580,"f":8,"r":1.2},{"w":1582.5,"f":5.5,"r":-0.1},{"w":1585,"f":7,"r":0.9},{"w":1587.5,"f":5,"r":0.2},{"w":1590,"f":8,"r":1.6},{"w":1592.5,"f":5,"r":0.3},{"w":1595,"f":6.5,"r":1.1},{"w":1597.5,"f":4,"r":-0.2},{"w":1600,"f":7,"r":1.5},{"w":1602.5,"f":5,"r":0.6},{"w":1605,"f":8,"r":2},{"w":1607.5,"f":4.5,"r":0.3},{"w":1610,"f":6,"r":1.2},{"w":1612.5,"f":3.5,"r":-0.1},{"w":1615,"f":7,"r":1.8},{"w":1617.5,"f":5,"r":0.8},{"w":1620,"f":6.5,"r":1.6},{"w":1622.5,"f":4,"r":0.4},{"w":1625,"f":7.5,"r":2.1},{"w":1627.5,"f":5,"r":1},{"w":1630,"f":6,"r":1.6},{"w":1632.5,"f":3.5,"r":0.3},{"w":1635,"f":7,"r":2},{"w":1637.5,"f":5,"r":1.1},{"w":1640,"f":8,"r":2.5},{"w":1641,"f":-1,"r":-3},{"w":1642.5,"f":4.5,"r":0.8},{"w":1645,"f":6,"r":1.8},{"w":1647.5,"f":3.5,"r":0.5},{"w":1650,"f":7,"r":2.4},{"w":1652.5,"f":5,"r":1.4},{"w":1655,"f":6.5,"r":2.2},{"w":1657.5,"f":3.5,"r":0.8},{"w":1660,"f":7.5,"r":2.6},{"w":1662.5,"f":5,"r":1.5},{"w":1665,"f":6,"r":2.1},{"w":1667.5,"f":4,"r":1.1},{"w":1670,"f":6.5,"r":2.4}],
  "civ_line": [{"w":1430,"f":0.3},{"w":1450,"f":1.0},{"w":1467,"f":1.8},{"w":1480,"f":2.6},{"w":1498,"f":3.9},{"w":1511,"f":5.0},{"w":1517,"f":6.0},{"w":1522,"f":8.0},{"w":1528,"f":12.5},{"w":1534,"f":20},{"w":1540,"f":31},{"w":1544,"f":38},{"w":1547,"f":43.5},{"w":1549,"f":45},{"w":1551,"f":43},{"w":1554,"f":36},{"w":1558,"f":27},{"w":1562,"f":19.5},{"w":1566,"f":13.5},{"w":1570,"f":10},{"w":1575,"f":7.3},{"w":1580,"f":6.0},{"w":1590,"f":4.8},{"w":1600,"f":3.9},{"w":1620,"f":2.7},{"w":1638,"f":1.8},{"w":1655,"f":0.9},{"w":1670,"f":0.3}],
  "civ_br": [{"c":"a","w":1510,"f":0.1},{"c":"a","w":1515,"f":0.45},{"c":"a","w":1520,"f":1.5},{"c":"a","w":1525,"f":3.9},{"c":"a","w":1530,"f":8.3},{"c":"a","w":1535,"f":14.6},{"c":"a","w":1540,"f":20.7},{"c":"a","w":1543,"f":23.2},{"c":"a","w":1546,"f":24},{"c":"a","w":1549,"f":23.2},{"c":"a","w":1552,"f":20.7},{"c":"a","w":1557,"f":14.6},{"c":"a","w":1562,"f":8.3},{"c":"a","w":1567,"f":3.9},{"c":"a","w":1572,"f":1.5},{"c":"a","w":1577,"f":0.45},{"c":"a","w":1582,"f":0.1},
    {"c":"b","w":1538,"f":0.16},{"c":"b","w":1541,"f":1.1},{"c":"b","w":1544,"f":4.5},{"c":"b","w":1547,"f":10.6},{"c":"b","w":1550,"f":14},{"c":"b","w":1553,"f":10.6},{"c":"b","w":1556,"f":4.5},{"c":"b","w":1559,"f":1.1},{"c":"b","w":1562,"f":0.16},
    {"c":"c","w":1430,"f":0.04},{"c":"c","w":1450,"f":0.18},{"c":"c","w":1470,"f":0.6},{"c":"c","w":1490,"f":1.6},{"c":"c","w":1510,"f":3.3},{"c":"c","w":1530,"f":5.3},{"c":"c","w":1545,"f":6.45},{"c":"c","w":1558,"f":6.8},{"c":"c","w":1570,"f":6.5},{"c":"c","w":1590,"f":4.9},{"c":"c","w":1610,"f":2.9},{"c":"c","w":1630,"f":1.35},{"c":"c","w":1650,"f":0.48},{"c":"c","w":1670,"f":0.13}],
  "civ_na": [{"w":1430,"f":0},{"w":1670,"f":0}],
  "ciii": [{"w":1780,"f":4.5,"r":1.5},{"w":1782.5,"f":-1,"r":-0.8},{"w":1785,"f":3,"r":0.9},{"w":1787.5,"f":-2.5,"r":-1.4},{"w":1790,"f":5,"r":1.8},{"w":1792.5,"f":0,"r":-0.3},{"w":1795,"f":-3.5,"r":-1.6},{"w":1797.5,"f":3.5,"r":1.1},{"w":1800,"f":1,"r":0.2},{"w":1802.5,"f":4,"r":1.4},{"w":1805,"f":-2,"r":-1.1},{"w":1807.5,"f":2.5,"r":0.8},{"w":1810,"f":-1,"r":-0.6},{"w":1812.5,"f":3,"r":1},{"w":1815,"f":0.5,"r":0},{"w":1817.5,"f":4,"r":1.4},{"w":1820,"f":-2.5,"r":-1.3},{"w":1822.5,"f":1.5,"r":0.4},{"w":1825,"f":3.5,"r":1.1},{"w":1827.5,"f":-1.5,"r":-0.9},{"w":1830,"f":2,"r":0.6},{"w":1832.5,"f":0,"r":-0.2},{"w":1835,"f":9,"r":2.6},{"w":1837.5,"f":1,"r":0.2},{"w":1840,"f":-2,"r":-1.2},{"w":1842.5,"f":3,"r":0.9},{"w":1845,"f":0.5,"r":-0.1},{"w":1847.5,"f":4,"r":1.2},{"w":1850,"f":-1,"r":-0.8},{"w":1852.5,"f":2.5,"r":0.6},{"w":1855,"f":5,"r":1.4},{"w":1857.5,"f":0.5,"r":-0.3},{"w":1860,"f":4,"r":0.9},{"w":1862.5,"f":1.5,"r":0},{"w":1865,"f":3,"r":0.5},{"w":1867.5,"f":6,"r":1.6},{"w":1870,"f":2,"r":0},{"w":1872.5,"f":4.5,"r":0.8},{"w":1875,"f":1.5,"r":-0.4},{"w":1877.5,"f":5,"r":0.9},{"w":1880,"f":3,"r":0.3},{"w":1882.5,"f":-1.5,"r":-1.9},{"w":1885,"f":5.5,"r":0.9},{"w":1887.5,"f":3,"r":-0.4},{"w":1890,"f":6.5,"r":0.8},{"w":1892.5,"f":5,"r":0.2},{"w":1895,"f":7.5,"r":0.5},{"w":1897.5,"f":6.5,"r":-0.2},{"w":1900,"f":9,"r":0.6},{"w":1902.5,"f":8.5,"r":0},{"w":1905,"f":11,"r":0.5},{"w":1907.5,"f":10.5,"r":0.3},{"w":1909,"f":12.8,"r":1},{"w":1910.5,"f":11.5,"r":0.7},{"w":1912,"f":12.5,"r":1.1},{"w":1913.5,"f":9,"r":-0.2},{"w":1915,"f":10,"r":0.7},{"w":1917.5,"f":7,"r":0.1},{"w":1920,"f":7.5,"r":0.8},{"w":1922.5,"f":5,"r":0.1},{"w":1925,"f":6,"r":0.9},{"w":1927.5,"f":3.5,"r":0.1},{"w":1930,"f":5,"r":0.9},{"w":1932.5,"f":2,"r":-0.1},{"w":1935,"f":3.5,"r":0.6},{"w":1937.5,"f":0,"r":-0.9},{"w":1940,"f":-3,"r":-1.7},{"w":1942.5,"f":3,"r":0.6},{"w":1945,"f":0.5,"r":-0.1},{"w":1947.5,"f":-2.5,"r":-1.3},{"w":1950,"f":3.5,"r":1},{"w":1952.5,"f":1,"r":0.2},{"w":1955,"f":-2,"r":-1.1},{"w":1957.5,"f":2.5,"r":0.7},{"w":1960,"f":-1,"r":-0.6},{"w":1962.5,"f":4,"r":1.3},{"w":1965,"f":0.5,"r":0},{"w":1967.5,"f":-3.5,"r":-1.6},{"w":1970,"f":3,"r":0.9},{"w":1972.5,"f":0,"r":-0.2},{"w":1975,"f":-2.5,"r":-1.2},{"w":1977.5,"f":2,"r":0.5},{"w":1980,"f":-3.5,"r":-1.7},{"w":1982.5,"f":3,"r":0.9},{"w":1985,"f":-1,"r":-0.6},{"w":1987.5,"f":4.5,"r":1.4},{"w":1990,"f":0,"r":-0.2},{"w":1992.5,"f":-3,"r":-1.4},{"w":1995,"f":2.5,"r":0.7},{"w":1997.5,"f":-1.5,"r":-0.8},{"w":2000,"f":3.5,"r":1.1},{"w":2002.5,"f":0,"r":-0.1},{"w":2005,"f":-3.5,"r":-1.6},{"w":2007.5,"f":2,"r":0.5},{"w":2010,"f":-0.5,"r":-0.4},{"w":2011.5,"f":6,"r":1.9},{"w":2013,"f":-2,"r":-1},{"w":2015,"f":3,"r":0.9},{"w":2017.5,"f":-3,"r":-1.5},{"w":2020,"f":2,"r":0.5},{"w":2022.5,"f":-1,"r":-0.6},{"w":2025,"f":4,"r":1.3},{"w":2027.5,"f":-2.5,"r":-1.2},{"w":2030,"f":1.5,"r":0.4},{"w":2032.5,"f":-3.5,"r":-1.7},{"w":2035,"f":3.5,"r":1.1},{"w":2037.5,"f":0,"r":-0.2},{"w":2040,"f":2.5,"r":0.8}],
  "ciii_line": [{"w":1780,"f":0.03},{"w":1800,"f":0.1},{"w":1820,"f":0.25},{"w":1840,"f":0.6},{"w":1855,"f":1.1},{"w":1865,"f":1.6},{"w":1875,"f":2.3},{"w":1885,"f":3.2},{"w":1892,"f":4.5},{"w":1898,"f":6.5},{"w":1903,"f":8.5},{"w":1907,"f":9.6},{"w":1910,"f":9.5},{"w":1913,"f":8.6},{"w":1917,"f":6.8},{"w":1921,"f":5.0},{"w":1926,"f":3.3},{"w":1931,"f":2.2},{"w":1937,"f":1.4},{"w":1945,"f":0.8},{"w":1960,"f":0.35},{"w":1980,"f":0.15},{"w":2000,"f":0.07},{"w":2040,"f":0.02}],
  "ciii_br": [{"c":"a","w":1891,"f":0.07},{"c":"a","w":1895,"f":0.43},{"c":"a","w":1899,"f":1.6},{"c":"a","w":1903,"f":3.9},{"c":"a","w":1906,"f":5.7},{"c":"a","w":1909,"f":6.5},{"c":"a","w":1912,"f":5.7},{"c":"a","w":1915,"f":3.9},{"c":"a","w":1919,"f":1.6},{"c":"a","w":1923,"f":0.43},{"c":"a","w":1927,"f":0.07},
    {"c":"b","w":1870,"f":0.1},{"c":"b","w":1878,"f":0.5},{"c":"b","w":1885,"f":1.3},{"c":"b","w":1890,"f":2.1},{"c":"b","w":1895,"f":2.8},{"c":"b","w":1900,"f":3.25},{"c":"b","w":1905,"f":3.2},{"c":"b","w":1910,"f":2.7},{"c":"b","w":1915,"f":2.0},{"c":"b","w":1920,"f":1.2},{"c":"b","w":1925,"f":0.6},{"c":"b","w":1932,"f":0.15}],
  "ciii_na": [{"w":1780,"f":0},{"w":2040,"f":0}],
  "mgii": [{"w":2630,"f":2,"r":0.6},{"w":2633,"f":-1.5,"r":-0.8},{"w":2636,"f":3,"r":1},{"w":2639,"f":0.5,"r":0.1},{"w":2642,"f":-3,"r":-1.3},{"w":2645,"f":2.5,"r":0.8},{"w":2648,"f":-0.5,"r":-0.3},{"w":2651,"f":3.5,"r":1.1},{"w":2654,"f":0,"r":-0.1},{"w":2657,"f":-4.5,"r":-1.6},{"w":2660,"f":2,"r":0.6},{"w":2663,"f":-1,"r":-0.5},{"w":2666,"f":3,"r":0.9},{"w":2669,"f":0.5,"r":0},{"w":2672,"f":-3.5,"r":-1.4},{"w":2675,"f":2,"r":0.5},{"w":2678,"f":-1,"r":-0.6},{"w":2681,"f":3.5,"r":1},{"w":2684,"f":-2,"r":-0.9},{"w":2687,"f":1,"r":0.2},{"w":2690,"f":-4,"r":-1.5},{"w":2693,"f":2.5,"r":0.7},{"w":2696,"f":-1.5,"r":-0.8},{"w":2699,"f":4,"r":1.2},{"w":2702,"f":-4.5,"r":-1.7},{"w":2705,"f":2,"r":0.5},{"w":2708,"f":-2,"r":-1},{"w":2711,"f":26,"r":2.2},{"w":2714,"f":-4.5,"r":-1.6},{"w":2717,"f":3,"r":0.6},{"w":2720,"f":-3,"r":-1.3},{"w":2722,"f":8,"r":1.2},{"w":2725,"f":-4.5,"r":-1.7},{"w":2729,"f":13,"r":1.5},{"w":2732,"f":-2,"r":-1},{"w":2735,"f":4,"r":0.7},{"w":2738,"f":-4.5,"r":-1.6},{"w":2740,"f":10,"r":1.3},{"w":2743,"f":-3,"r":-1.3},{"w":2746,"f":3.5,"r":0.5},{"w":2750,"f":17,"r":1.9},{"w":2753,"f":-4.5,"r":-1.8},{"w":2756,"f":9,"r":1},{"w":2759,"f":-1,"r":-0.9},{"w":2763,"f":17,"r":1.8},{"w":2766,"f":-4.5,"r":-1.8},{"w":2769,"f":5,"r":0.4},{"w":2771,"f":11,"r":1.2},{"w":2774,"f":-3,"r":-1.5},{"w":2777,"f":4,"r":0.3},{"w":2780,"f":15,"r":1.5},{"w":2783,"f":-1,"r":-1},{"w":2786,"f":6,"r":0.3},{"w":2788,"f":10,"r":0.8},{"w":2791,"f":1,"r":-1.1},{"w":2794,"f":9,"r":0.5},{"w":2797,"f":4,"r":-0.6},{"w":2801,"f":9.5,"r":0.7},{"w":2804,"f":2,"r":-1},{"w":2807,"f":8,"r":0.4},{"w":2810,"f":9,"r":0.5},{"w":2813,"f":1,"r":-1.2},{"w":2817,"f":7,"r":0.3},{"w":2820,"f":-1,"r":-1.4},{"w":2823,"f":12,"r":1.1},{"w":2826,"f":0,"r":-1.2},{"w":2829,"f":5,"r":0.2},{"w":2832,"f":8,"r":0.8},{"w":2836,"f":-3,"r":-1.5},{"w":2840,"f":3,"r":0.2},{"w":2844,"f":-4,"r":-1.7},{"w":2847,"f":2,"r":0.1},{"w":2850,"f":21,"r":2},{"w":2853,"f":19,"r":1.8},{"w":2856,"f":-3,"r":-1.4},{"w":2860,"f":10,"r":1.1},{"w":2864,"f":-2,"r":-1.2},{"w":2869,"f":15,"r":1.5},{"w":2873,"f":-4,"r":-1.7},{"w":2877,"f":12,"r":1.2},{"w":2881,"f":-1,"r":-0.8},{"w":2885,"f":25,"r":2.2},{"w":2888,"f":-4.5,"r":-1.8},{"w":2891,"f":11,"r":1.2},{"w":2894,"f":-2,"r":-1.1},{"w":2897,"f":39.5,"r":2.6},{"w":2900,"f":0,"r":-0.5},{"w":2903,"f":1,"r":-0.2},{"w":2906,"f":14,"r":1.3},{"w":2910,"f":-3.5,"r":-1.5},{"w":2914,"f":53,"r":2.8},{"w":2917,"f":-2,"r":-1.1},{"w":2920,"f":1.5,"r":0.3},{"w":2923,"f":10,"r":1.1},{"w":2927,"f":-4.5,"r":-1.7},{"w":2931,"f":2,"r":0.4},{"w":2936,"f":25,"r":2.1},{"w":2940,"f":-2,"r":-1.1},{"w":2944,"f":16,"r":1.5},{"w":2948,"f":-1.5,"r":-0.9},{"w":2952,"f":25.7,"r":2.1},{"w":2956,"f":-3,"r":-1.4},{"w":2959,"f":8,"r":0.8},{"w":2961,"f":46,"r":2.7},{"w":2964,"f":-1,"r":-0.7},{"w":2967,"f":12,"r":1.2},{"w":2970,"f":-3,"r":-1.4}],
  "mgii_line": [{"w":2630,"f":0.1},{"w":2660,"f":0.25},{"w":2690,"f":0.45},{"w":2720,"f":0.8},{"w":2745,"f":1.3},{"w":2765,"f":1.9},{"w":2780,"f":2.6},{"w":2788,"f":3.3},{"w":2791,"f":4.0},{"w":2793,"f":5.6},{"w":2795,"f":6.6},{"w":2797,"f":6.4},{"w":2800,"f":5.8},{"w":2805,"f":5.7},{"w":2810,"f":5.6},{"w":2815,"f":5.0},{"w":2820,"f":4.2},{"w":2826,"f":3.3},{"w":2833,"f":2.6},{"w":2845,"f":2.0},{"w":2860,"f":1.5},{"w":2880,"f":1.1},{"w":2910,"f":0.7},{"w":2940,"f":0.4},{"w":2970,"f":0.25}],
  "mgii_br": [{"c":"a","w":2760,"f":0.03},{"c":"a","w":2770,"f":0.17},{"c":"a","w":2780,"f":0.69},{"c":"a","w":2790,"f":1.75},{"c":"a","w":2798,"f":2.7},{"c":"a","w":2806,"f":3.1},{"c":"a","w":2814,"f":2.7},{"c":"a","w":2822,"f":1.75},{"c":"a","w":2832,"f":0.69},{"c":"a","w":2842,"f":0.17},{"c":"a","w":2852,"f":0.03},{"c":"b","w":2630,"f":0},{"c":"b","w":2970,"f":0}],
  "mgii_na": [{"w":2630,"f":0},{"w":2789,"f":0.04},{"w":2791,"f":0.29},{"w":2793,"f":1.08},{"w":2794.5,"f":1.8},{"w":2796,"f":2.2},{"w":2797.5,"f":1.8},{"w":2799,"f":1.08},{"w":2801,"f":0.29},{"w":2803,"f":0.04},{"w":2970,"f":0}]
},
"resolve": {"scale": {"color": "independent"}},
"spacing": 34.5,
"bounds": "flush",
"vconcat": [
 {
  "width": 1056, "height": 212,
  "title": {"text": "ra,dec = (132.832580,20.965132)\u00a0\u00a0\u00a0\u00a0\u00a05177-56245-0182\u00a0\u00a0\u00a0\u00a0\u00a0z = 2.4330\u00a0\u00a0\u00a0\u00a0\u00a0S/N= 4.9", "anchor": "start", "frame": "group", "dx": 81, "offset": 5, "fontSize": 20, "font": "DejaVu Sans Condensed, DejaVu Sans", "fontWeight": "normal", "color": "black"},
  "layer": [
   {"data": {"name": "regions"}, "mark": {"type": "rect", "color": "#ccccff"},
    "encoding": {"x": {"field": "lo", "type": "quantitative", "scale": {"domain": [1037, 3012], "nice": false, "zero": false},
       "axis": {"values": [1250,1500,1750,2000,2250,2500,2750,3000], "format": "d", "labelOverlap": false, "tickSize": -7, "labelPadding": 11, "labelFontSize": 19, "title": null}},
     "x2": {"field": "hi"}}},
   {"data": {"name": "mask"}, "mark": {"type": "line", "color": "#808080", "strokeWidth": 8, "strokeCap": "round", "clip": true},
    "encoding": {"x": {"field": "w", "type": "quantitative", "axis": {"values": [1250,1500,1750,2000,2250,2500,2750,3000], "format": "d", "labelOverlap": false, "tickSize": -7, "labelPadding": 11, "labelFontSize": 19, "title": null}},
     "y": {"datum": 240, "axis": {"values": [0,100,200], "labelOverlap": false, "tickSize": -7, "labelPadding": 13, "labelFontSize": 19, "title": null}}, "detail": {"field": "s"}}},
   {"data": {"name": "spec"}, "mark": {"type": "line", "strokeWidth": 1.3, "clip": true},
    "encoding": {"x": {"field": "w", "type": "quantitative", "axis": {"values": [1250,1500,1750,2000,2250,2500,2750,3000], "format": "d", "labelOverlap": false, "tickSize": -7, "labelPadding": 11, "labelFontSize": 19, "title": null}},
     "y": {"field": "f", "type": "quantitative", "scale": {"domain": [-4, 253], "nice": false, "zero": false},
       "axis": {"values": [0,100,200], "labelOverlap": false, "tickSize": -7, "labelPadding": 13, "labelFontSize": 19, "title": null}},
     "color": {"datum": "data", "scale": {"domain": ["data", "line", "line br", "line na", "FeII", "BC", "PL"], "range": ["black", "#ff0000", "#008000", "#0000ff", "#bf00bf", "#00bfbf", "#0000ff"]},
       "legend": {"orient": "none", "legendX": 485, "legendY": 38.4, "title": null, "symbolType": "stroke", "symbolSize": 841, "symbolStrokeWidth": 2, "labelFontSize": 12.5, "labelFont": "DejaVu Sans", "labelColor": "black", "labelOffset": 10, "rowPadding": 0, "clipHeight": 18.6, "padding": 0}}}},
   {"data": {"name": "t_line"}, "mark": {"type": "line", "strokeWidth": 2.2, "interpolate": "monotone"},
    "encoding": {"x": {"field": "w", "type": "quantitative", "axis": {"values": [1250,1500,1750,2000,2250,2500,2750,3000], "format": "d", "labelOverlap": false, "tickSize": -7, "labelPadding": 11, "labelFontSize": 19, "title": null}}, "y": {"field": "f", "type": "quantitative", "axis": {"values": [0,100,200], "labelOverlap": false, "tickSize": -7, "labelPadding": 13, "labelFontSize": 19, "title": null}}, "color": {"datum": "line"}}},
   {"data": {"name": "t_br"}, "mark": {"type": "line", "strokeWidth": 1.3, "interpolate": "monotone"},
    "encoding": {"x": {"field": "w", "type": "quantitative", "axis": {"values": [1250,1500,1750,2000,2250,2500,2750,3000], "format": "d", "labelOverlap": false, "tickSize": -7, "labelPadding": 11, "labelFontSize": 19, "title": null}}, "y": {"field": "f", "type": "quantitative", "axis": {"values": [0,100,200], "labelOverlap": false, "tickSize": -7, "labelPadding": 13, "labelFontSize": 19, "title": null}}, "detail": {"field": "c"}, "color": {"datum": "line br"}}},
   {"data": {"name": "t_na"}, "mark": {"type": "line", "strokeWidth": 1.3, "interpolate": "monotone"},
    "encoding": {"x": {"field": "w", "type": "quantitative", "axis": {"values": [1250,1500,1750,2000,2250,2500,2750,3000], "format": "d", "labelOverlap": false, "tickSize": -7, "labelPadding": 11, "labelFontSize": 19, "title": null}}, "y": {"field": "f", "type": "quantitative", "axis": {"values": [0,100,200], "labelOverlap": false, "tickSize": -7, "labelPadding": 13, "labelFontSize": 19, "title": null}}, "detail": {"field": "c"}, "color": {"datum": "line na"}}},
   {"data": {"name": "t_fe"}, "mark": {"type": "line", "strokeWidth": 1.3, "interpolate": "monotone"},
    "encoding": {"x": {"field": "w", "type": "quantitative", "axis": {"values": [1250,1500,1750,2000,2250,2500,2750,3000], "format": "d", "labelOverlap": false, "tickSize": -7, "labelPadding": 11, "labelFontSize": 19, "title": null}}, "y": {"field": "f", "type": "quantitative", "axis": {"values": [0,100,200], "labelOverlap": false, "tickSize": -7, "labelPadding": 13, "labelFontSize": 19, "title": null}}, "color": {"datum": "FeII"}}},
   {"data": {"name": "t_bc"}, "mark": {"type": "line", "strokeWidth": 2},
    "encoding": {"x": {"field": "w", "type": "quantitative", "axis": {"values": [1250,1500,1750,2000,2250,2500,2750,3000], "format": "d", "labelOverlap": false, "tickSize": -7, "labelPadding": 11, "labelFontSize": 19, "title": null}}, "y": {"field": "f", "type": "quantitative", "axis": {"values": [0,100,200], "labelOverlap": false, "tickSize": -7, "labelPadding": 13, "labelFontSize": 19, "title": null}}, "color": {"datum": "BC"}}},
   {"data": {"name": "t_pl"}, "mark": {"type": "line", "strokeWidth": 1.6, "interpolate": "monotone"},
    "encoding": {"x": {"field": "w", "type": "quantitative", "axis": {"values": [1250,1500,1750,2000,2250,2500,2750,3000], "format": "d", "labelOverlap": false, "tickSize": -7, "labelPadding": 11, "labelFontSize": 19, "title": null}}, "y": {"field": "f", "type": "quantitative", "axis": {"values": [0,100,200], "labelOverlap": false, "tickSize": -7, "labelPadding": 13, "labelFontSize": 19, "title": null}}, "color": {"datum": "PL"}}},
   {"data": {"name": "lines"}, "mark": {"type": "rule", "color": "black", "strokeWidth": 1.5, "strokeDash": [1.5, 2.5]},
    "encoding": {"x": {"field": "w", "type": "quantitative", "axis": {"values": [1250,1500,1750,2000,2250,2500,2750,3000], "format": "d", "labelOverlap": false, "tickSize": -7, "labelPadding": 11, "labelFontSize": 19, "title": null}}}},
   {"data": {"name": "lines"}, "mark": {"type": "text", "angle": 270, "align": "right", "baseline": "top", "dy": 5, "fontSize": 14.5, "color": "black"},
    "encoding": {"x": {"field": "w", "type": "quantitative", "axis": {"values": [1250,1500,1750,2000,2250,2500,2750,3000], "format": "d", "labelOverlap": false, "tickSize": -7, "labelPadding": 11, "labelFontSize": 19, "title": null}}, "y": {"datum": 243, "axis": {"values": [0,100,200], "labelOverlap": false, "tickSize": -7, "labelPadding": 13, "labelFontSize": 19, "title": null}}, "text": {"field": "name"}}}
  ]
 },
 {
  "width": 1056, "height": 88,
  "layer": [
   {"data": {"name": "regions"}, "mark": {"type": "rect", "color": "#ccccff"},
    "encoding": {"x": {"field": "lo", "type": "quantitative", "scale": {"domain": [1037, 3012], "nice": false, "zero": false},
       "axis": {"values": [1250,1500,1750,2000,2250,2500,2750,3000], "format": "d", "labelOverlap": false, "tickSize": -7, "labelPadding": 11, "labelFontSize": 19, "title": null}},
     "x2": {"field": "hi"}}},
   {"data": {"name": "spec"}, "mark": {"type": "line", "color": "#808080", "strokeWidth": 1.6, "clip": true},
    "encoding": {"x": {"field": "w", "type": "quantitative", "axis": {"values": [1250,1500,1750,2000,2250,2500,2750,3000], "format": "d", "labelOverlap": false, "tickSize": -7, "labelPadding": 11, "labelFontSize": 19, "title": null}},
     "y": {"field": "r", "type": "quantitative", "scale": {"domain": [-10, 10.7], "nice": false, "zero": false},
       "axis": {"values": [-10,0,10], "labelExpr": "replace(datum.label, '-', '−')", "labelOverlap": false, "tickSize": -7, "labelPadding": 13, "labelFontSize": 19, "title": "fλ (10⁻¹⁷erg s⁻¹ cm⁻² Å⁻¹)", "titleFontSize": 25, "titleX": -79, "titleY": 9, "titleAngle": 270, "titleBaseline": "alphabetic", "titleAlign": "center"}}}},
   {"data": {"name": "spec"}, "mark": {"type": "line", "color": "#0000ff", "strokeWidth": 1.6, "clip": true},
    "encoding": {"x": {"field": "w", "type": "quantitative", "axis": {"values": [1250,1500,1750,2000,2250,2500,2750,3000], "format": "d", "labelOverlap": false, "tickSize": -7, "labelPadding": 11, "labelFontSize": 19, "title": null}},
     "y": {"field": "e", "type": "quantitative", "axis": {"values": [-10,0,10], "labelExpr": "replace(datum.label, '-', '−')", "labelOverlap": false, "tickSize": -7, "labelPadding": 13, "labelFontSize": 19, "title": "fλ (10⁻¹⁷erg s⁻¹ cm⁻² Å⁻¹)", "titleFontSize": 25, "titleX": -79, "titleY": 9, "titleAngle": 270, "titleBaseline": "alphabetic", "titleAlign": "center"}}}},
   {"mark": {"type": "rule", "color": "#ff0000", "strokeWidth": 1.6, "strokeDash": [6, 4]},
    "encoding": {"y": {"datum": 0, "axis": {"values": [-10,0,10], "labelExpr": "replace(datum.label, '-', '−')", "labelOverlap": false, "tickSize": -7, "labelPadding": 13, "labelFontSize": 19, "title": "fλ (10⁻¹⁷erg s⁻¹ cm⁻² Å⁻¹)", "titleFontSize": 25, "titleX": -79, "titleY": 9, "titleAngle": 270, "titleBaseline": "alphabetic", "titleAlign": "center"}}}},
   {"data": {"name": "lines"}, "mark": {"type": "rule", "color": "black", "strokeWidth": 1.5, "strokeDash": [1.5, 2.5]},
    "encoding": {"x": {"field": "w", "type": "quantitative", "axis": {"values": [1250,1500,1750,2000,2250,2500,2750,3000], "format": "d", "labelOverlap": false, "tickSize": -7, "labelPadding": 11, "labelFontSize": 19, "title": null}}}}
  ]
 },
 {
  "columns": 4,
  "spacing": {"row": 13, "column": 70},
  "bounds": "flush",
  "concat": [
     {"width": 211, "height": 166, "layer": [
       {"data": {"name": "lya"}, "mark": {"type": "line", "color": "black", "strokeWidth": 1.6, "clip": true},
        "encoding": {"x": {"field": "w", "type": "quantitative", "scale": {"domain": [1080, 1360], "nice": false, "zero": false}, "axis": {"values": [1080,1108,1136,1164,1192,1220,1248,1276,1304,1332,1360], "labels": false, "tickSize": {"condition": {"test": "(datum.value - 1080) % 140 === 0", "value": -7}, "value": -4}, "title": null}},
         "y": {"field": "f", "type": "quantitative", "scale": {"domain": [-4, 216], "nice": false, "zero": false}, "axis": {"values": [0,100,200], "labelOverlap": false, "tickSize": -7, "labelPadding": 13, "labelFontSize": 19, "title": null}}}},
       {"data": {"name": "lya_br"}, "mark": {"type": "line", "color": "#008000", "strokeWidth": 1.5, "interpolate": "monotone"},
        "encoding": {"x": {"field": "w", "type": "quantitative", "axis": {"values": [1080,1108,1136,1164,1192,1220,1248,1276,1304,1332,1360], "labels": false, "tickSize": {"condition": {"test": "(datum.value - 1080) % 140 === 0", "value": -7}, "value": -4}, "title": null}}, "y": {"field": "f", "type": "quantitative", "axis": {"values": [0,100,200], "labelOverlap": false, "tickSize": -7, "labelPadding": 13, "labelFontSize": 19, "title": null}}, "detail": {"field": "c"}}},
       {"data": {"name": "lya_na"}, "mark": {"type": "line", "color": "#0000ff", "strokeWidth": 1.5, "interpolate": "monotone"},
        "encoding": {"x": {"field": "w", "type": "quantitative", "axis": {"values": [1080,1108,1136,1164,1192,1220,1248,1276,1304,1332,1360], "labels": false, "tickSize": {"condition": {"test": "(datum.value - 1080) % 140 === 0", "value": -7}, "value": -4}, "title": null}}, "y": {"field": "f", "type": "quantitative", "axis": {"values": [0,100,200], "labelOverlap": false, "tickSize": -7, "labelPadding": 13, "labelFontSize": 19, "title": null}}}},
       {"data": {"name": "lya_line"}, "mark": {"type": "line", "color": "#ff0000", "strokeWidth": 3, "interpolate": "monotone"},
        "encoding": {"x": {"field": "w", "type": "quantitative", "axis": {"values": [1080,1108,1136,1164,1192,1220,1248,1276,1304,1332,1360], "labels": false, "tickSize": {"condition": {"test": "(datum.value - 1080) % 140 === 0", "value": -7}, "value": -4}, "title": null}}, "y": {"field": "f", "type": "quantitative", "axis": {"values": [0,100,200], "labelOverlap": false, "tickSize": -7, "labelPadding": 13, "labelFontSize": 19, "title": null}}}},
       {"data": {"name": "lya"}, "transform": [{"filter": "datum.w === 1080"}], "mark": {"type": "text", "text": "Lya", "align": "left", "baseline": "alphabetic", "dx": 4, "dy": 27, "fontSize": 19},
        "encoding": {"x": {"datum": 1080, "axis": {"values": [1080,1108,1136,1164,1192,1220,1248,1276,1304,1332,1360], "labels": false, "tickSize": {"condition": {"test": "(datum.value - 1080) % 140 === 0", "value": -7}, "value": -4}, "title": null}}, "y": {"datum": 216, "axis": {"values": [0,100,200], "labelOverlap": false, "tickSize": -7, "labelPadding": 13, "labelFontSize": 19, "title": null}}}},
       {"data": {"name": "lya"}, "transform": [{"filter": "datum.w === 1080"}], "mark": {"type": "text", "text": "χᵣ² = 7.94", "align": "left", "baseline": "alphabetic", "dx": 4, "dy": 50, "fontSize": 15},
        "encoding": {"x": {"datum": 1080, "axis": {"values": [1080,1108,1136,1164,1192,1220,1248,1276,1304,1332,1360], "labels": false, "tickSize": {"condition": {"test": "(datum.value - 1080) % 140 === 0", "value": -7}, "value": -4}, "title": null}}, "y": {"datum": 216, "axis": {"values": [0,100,200], "labelOverlap": false, "tickSize": -7, "labelPadding": 13, "labelFontSize": 19, "title": null}}}}
     ]},
     {"width": 211, "height": 166, "layer": [
       {"data": {"name": "civ"}, "mark": {"type": "line", "color": "black", "strokeWidth": 1.6, "clip": true},
        "encoding": {"x": {"field": "w", "type": "quantitative", "scale": {"domain": [1430, 1670], "nice": false, "zero": false}, "axis": {"values": [1430,1454,1478,1502,1526,1550,1574,1598,1622,1646,1670], "labels": false, "tickSize": {"condition": {"test": "(datum.value - 1430) % 120 === 0", "value": -7}, "value": -4}, "title": null}},
         "y": {"field": "f", "type": "quantitative", "scale": {"domain": [-0.6, 52], "nice": false, "zero": false}, "axis": {"values": [0,20,40], "labelOverlap": false, "tickSize": -7, "labelPadding": 13, "labelFontSize": 19, "title": null}}}},
       {"data": {"name": "civ_na"}, "mark": {"type": "line", "color": "#0000ff", "strokeWidth": 1.5},
        "encoding": {"x": {"field": "w", "type": "quantitative", "axis": {"values": [1430,1454,1478,1502,1526,1550,1574,1598,1622,1646,1670], "labels": false, "tickSize": {"condition": {"test": "(datum.value - 1430) % 120 === 0", "value": -7}, "value": -4}, "title": null}}, "y": {"field": "f", "type": "quantitative", "axis": {"values": [0,20,40], "labelOverlap": false, "tickSize": -7, "labelPadding": 13, "labelFontSize": 19, "title": null}}}},
       {"data": {"name": "civ_br"}, "mark": {"type": "line", "color": "#008000", "strokeWidth": 1.5, "interpolate": "monotone"},
        "encoding": {"x": {"field": "w", "type": "quantitative", "axis": {"values": [1430,1454,1478,1502,1526,1550,1574,1598,1622,1646,1670], "labels": false, "tickSize": {"condition": {"test": "(datum.value - 1430) % 120 === 0", "value": -7}, "value": -4}, "title": null}}, "y": {"field": "f", "type": "quantitative", "axis": {"values": [0,20,40], "labelOverlap": false, "tickSize": -7, "labelPadding": 13, "labelFontSize": 19, "title": null}}, "detail": {"field": "c"}}},
       {"data": {"name": "civ_line"}, "mark": {"type": "line", "color": "#ff0000", "strokeWidth": 3, "interpolate": "monotone"},
        "encoding": {"x": {"field": "w", "type": "quantitative", "axis": {"values": [1430,1454,1478,1502,1526,1550,1574,1598,1622,1646,1670], "labels": false, "tickSize": {"condition": {"test": "(datum.value - 1430) % 120 === 0", "value": -7}, "value": -4}, "title": null}}, "y": {"field": "f", "type": "quantitative", "axis": {"values": [0,20,40], "labelOverlap": false, "tickSize": -7, "labelPadding": 13, "labelFontSize": 19, "title": null}}}},
       {"data": {"name": "civ"}, "transform": [{"filter": "datum.w === 1430"}], "mark": {"type": "text", "text": "CIV", "align": "left", "baseline": "alphabetic", "dx": 4, "dy": 27, "fontSize": 19},
        "encoding": {"x": {"datum": 1430, "axis": {"values": [1430,1454,1478,1502,1526,1550,1574,1598,1622,1646,1670], "labels": false, "tickSize": {"condition": {"test": "(datum.value - 1430) % 120 === 0", "value": -7}, "value": -4}, "title": null}}, "y": {"datum": 52, "axis": {"values": [0,20,40], "labelOverlap": false, "tickSize": -7, "labelPadding": 13, "labelFontSize": 19, "title": null}}}},
       {"data": {"name": "civ"}, "transform": [{"filter": "datum.w === 1430"}], "mark": {"type": "text", "text": "χᵣ² = 0.82", "align": "left", "baseline": "alphabetic", "dx": 4, "dy": 50, "fontSize": 15},
        "encoding": {"x": {"datum": 1430, "axis": {"values": [1430,1454,1478,1502,1526,1550,1574,1598,1622,1646,1670], "labels": false, "tickSize": {"condition": {"test": "(datum.value - 1430) % 120 === 0", "value": -7}, "value": -4}, "title": null}}, "y": {"datum": 52, "axis": {"values": [0,20,40], "labelOverlap": false, "tickSize": -7, "labelPadding": 13, "labelFontSize": 19, "title": null}}}}
     ]},
     {"width": 211, "height": 166, "layer": [
       {"data": {"name": "ciii"}, "mark": {"type": "line", "color": "black", "strokeWidth": 1.6, "clip": true},
        "encoding": {"x": {"field": "w", "type": "quantitative", "scale": {"domain": [1780, 2040], "nice": false, "zero": false}, "axis": {"values": [1780,1806,1832,1858,1884,1910,1936,1962,1988,2014,2040], "labels": false, "tickSize": {"condition": {"test": "(datum.value - 1780) % 130 === 0", "value": -7}, "value": -4}, "title": null}},
         "y": {"field": "f", "type": "quantitative", "scale": {"domain": [-2.9, 14.9], "nice": false, "zero": false}, "axis": {"values": [0,10], "labelOverlap": false, "tickSize": -7, "labelPadding": 13, "labelFontSize": 19, "title": null}}}},
       {"data": {"name": "ciii_br"}, "mark": {"type": "line", "color": "#008000", "strokeWidth": 1.5, "interpolate": "monotone"},
        "encoding": {"x": {"field": "w", "type": "quantitative", "axis": {"values": [1780,1806,1832,1858,1884,1910,1936,1962,1988,2014,2040], "labels": false, "tickSize": {"condition": {"test": "(datum.value - 1780) % 130 === 0", "value": -7}, "value": -4}, "title": null}}, "y": {"field": "f", "type": "quantitative", "axis": {"values": [0,10], "labelOverlap": false, "tickSize": -7, "labelPadding": 13, "labelFontSize": 19, "title": null}}, "detail": {"field": "c"}}},
       {"data": {"name": "ciii_na"}, "mark": {"type": "line", "color": "#0000ff", "strokeWidth": 2},
        "encoding": {"x": {"field": "w", "type": "quantitative", "axis": {"values": [1780,1806,1832,1858,1884,1910,1936,1962,1988,2014,2040], "labels": false, "tickSize": {"condition": {"test": "(datum.value - 1780) % 130 === 0", "value": -7}, "value": -4}, "title": null}}, "y": {"field": "f", "type": "quantitative", "axis": {"values": [0,10], "labelOverlap": false, "tickSize": -7, "labelPadding": 13, "labelFontSize": 19, "title": null}}}},
       {"data": {"name": "ciii_line"}, "mark": {"type": "line", "color": "#ff0000", "strokeWidth": 3, "interpolate": "monotone"},
        "encoding": {"x": {"field": "w", "type": "quantitative", "axis": {"values": [1780,1806,1832,1858,1884,1910,1936,1962,1988,2014,2040], "labels": false, "tickSize": {"condition": {"test": "(datum.value - 1780) % 130 === 0", "value": -7}, "value": -4}, "title": null}}, "y": {"field": "f", "type": "quantitative", "axis": {"values": [0,10], "labelOverlap": false, "tickSize": -7, "labelPadding": 13, "labelFontSize": 19, "title": null}}}},
       {"data": {"name": "ciii"}, "transform": [{"filter": "datum.w === 1780"}], "mark": {"type": "text", "text": "CIII", "align": "left", "baseline": "alphabetic", "dx": 4, "dy": 27, "fontSize": 19},
        "encoding": {"x": {"datum": 1780, "axis": {"values": [1780,1806,1832,1858,1884,1910,1936,1962,1988,2014,2040], "labels": false, "tickSize": {"condition": {"test": "(datum.value - 1780) % 130 === 0", "value": -7}, "value": -4}, "title": null}}, "y": {"datum": 14.9, "axis": {"values": [0,10], "labelOverlap": false, "tickSize": -7, "labelPadding": 13, "labelFontSize": 19, "title": null}}}},
       {"data": {"name": "ciii"}, "transform": [{"filter": "datum.w === 1780"}], "mark": {"type": "text", "text": "χᵣ² = 0.74", "align": "left", "baseline": "alphabetic", "dx": 4, "dy": 50, "fontSize": 15},
        "encoding": {"x": {"datum": 1780, "axis": {"values": [1780,1806,1832,1858,1884,1910,1936,1962,1988,2014,2040], "labels": false, "tickSize": {"condition": {"test": "(datum.value - 1780) % 130 === 0", "value": -7}, "value": -4}, "title": null}}, "y": {"datum": 14.9, "axis": {"values": [0,10], "labelOverlap": false, "tickSize": -7, "labelPadding": 13, "labelFontSize": 19, "title": null}}}}
     ]},
     {"width": 211, "height": 166, "layer": [
       {"data": {"name": "mgii"}, "mark": {"type": "line", "color": "black", "strokeWidth": 1.6, "clip": true},
        "encoding": {"x": {"field": "w", "type": "quantitative", "scale": {"domain": [2630, 2970], "nice": false, "zero": false}, "axis": {"values": [2630,2664,2698,2732,2766,2800,2834,2868,2902,2936,2970], "labels": false, "tickSize": {"condition": {"test": "(datum.value - 2630) % 170 === 0", "value": -7}, "value": -4}, "title": null}},
         "y": {"field": "f", "type": "quantitative", "scale": {"domain": [-4, 43.4], "nice": false, "zero": false}, "axis": {"values": [0,20,40], "labelOverlap": false, "tickSize": -7, "labelPadding": 13, "labelFontSize": 19, "title": null}}}},
       {"data": {"name": "mgii_br"}, "mark": {"type": "line", "color": "#008000", "strokeWidth": 1.5, "interpolate": "monotone"},
        "encoding": {"x": {"field": "w", "type": "quantitative", "axis": {"values": [2630,2664,2698,2732,2766,2800,2834,2868,2902,2936,2970], "labels": false, "tickSize": {"condition": {"test": "(datum.value - 2630) % 170 === 0", "value": -7}, "value": -4}, "title": null}}, "y": {"field": "f", "type": "quantitative", "axis": {"values": [0,20,40], "labelOverlap": false, "tickSize": -7, "labelPadding": 13, "labelFontSize": 19, "title": null}}, "detail": {"field": "c"}}},
       {"data": {"name": "mgii_na"}, "mark": {"type": "line", "color": "#0000ff", "strokeWidth": 2, "interpolate": "monotone"},
        "encoding": {"x": {"field": "w", "type": "quantitative", "axis": {"values": [2630,2664,2698,2732,2766,2800,2834,2868,2902,2936,2970], "labels": false, "tickSize": {"condition": {"test": "(datum.value - 2630) % 170 === 0", "value": -7}, "value": -4}, "title": null}}, "y": {"field": "f", "type": "quantitative", "axis": {"values": [0,20,40], "labelOverlap": false, "tickSize": -7, "labelPadding": 13, "labelFontSize": 19, "title": null}}}},
       {"data": {"name": "mgii_line"}, "mark": {"type": "line", "color": "#ff0000", "strokeWidth": 3, "interpolate": "monotone"},
        "encoding": {"x": {"field": "w", "type": "quantitative", "axis": {"values": [2630,2664,2698,2732,2766,2800,2834,2868,2902,2936,2970], "labels": false, "tickSize": {"condition": {"test": "(datum.value - 2630) % 170 === 0", "value": -7}, "value": -4}, "title": null}}, "y": {"field": "f", "type": "quantitative", "axis": {"values": [0,20,40], "labelOverlap": false, "tickSize": -7, "labelPadding": 13, "labelFontSize": 19, "title": null}}}},
       {"data": {"name": "mgii"}, "transform": [{"filter": "datum.w === 2630"}], "mark": {"type": "text", "text": "MgII", "align": "left", "baseline": "alphabetic", "dx": 4, "dy": 27, "fontSize": 19},
        "encoding": {"x": {"datum": 2630, "axis": {"values": [2630,2664,2698,2732,2766,2800,2834,2868,2902,2936,2970], "labels": false, "tickSize": {"condition": {"test": "(datum.value - 2630) % 170 === 0", "value": -7}, "value": -4}, "title": null}}, "y": {"datum": 43.4, "axis": {"values": [0,20,40], "labelOverlap": false, "tickSize": -7, "labelPadding": 13, "labelFontSize": 19, "title": null}}}},
       {"data": {"name": "mgii"}, "transform": [{"filter": "datum.w === 2630"}], "mark": {"type": "text", "text": "χᵣ² = 0.87", "align": "left", "baseline": "alphabetic", "dx": 4, "dy": 50, "fontSize": 15},
        "encoding": {"x": {"datum": 2630, "axis": {"values": [2630,2664,2698,2732,2766,2800,2834,2868,2902,2936,2970], "labels": false, "tickSize": {"condition": {"test": "(datum.value - 2630) % 170 === 0", "value": -7}, "value": -4}, "title": null}}, "y": {"datum": 43.4, "axis": {"values": [0,20,40], "labelOverlap": false, "tickSize": -7, "labelPadding": 13, "labelFontSize": 19, "title": null}}}}
     ]},
     {"width": 211, "height": 34, "layer": [
       {"data": {"name": "lya"}, "mark": {"type": "line", "color": "#808080", "strokeWidth": 1.4, "clip": true},
        "encoding": {"x": {"field": "w", "type": "quantitative", "scale": {"domain": [1080, 1360], "nice": false, "zero": false},
           "axis": {"values": [1080,1108,1136,1164,1192,1220,1248,1276,1304,1332,1360], "format": "d", "labelExpr": "(datum.value - 1080) % 140 === 0 ? datum.label : ''", "labelOverlap": false, "tickSize": {"condition": {"test": "(datum.value - 1080) % 140 === 0", "value": -7}, "value": -4}, "labelPadding": 14, "labelFontSize": 19, "title": null}},
         "y": {"field": "r", "type": "quantitative", "scale": {"domain": [-5.2, 5.2], "nice": false, "zero": false},
           "axis": {"values": [-5,-4,-3,-2,-1,0,1,2,3,4,5], "labelExpr": "datum.value % 5 === 0 ? replace(format(datum.value, 'd'), '-', '−') : ''", "labelOverlap": false, "tickSize": {"condition": {"test": "datum.value % 5 === 0", "value": -6}, "value": -3}, "labelPadding": 10, "labelFontSize": 12, "title": null}}}}
     ]},
     {"width": 211, "height": 34, "layer": [
       {"data": {"name": "civ"}, "mark": {"type": "line", "color": "#808080", "strokeWidth": 1.4, "clip": true},
        "encoding": {"x": {"field": "w", "type": "quantitative", "scale": {"domain": [1430, 1670], "nice": false, "zero": false},
           "axis": {"values": [1430,1454,1478,1502,1526,1550,1574,1598,1622,1646,1670], "format": "d", "labelExpr": "(datum.value - 1430) % 120 === 0 ? datum.label : ''", "labelOverlap": false, "tickSize": {"condition": {"test": "(datum.value - 1430) % 120 === 0", "value": -7}, "value": -4}, "labelPadding": 14, "labelFontSize": 19,
             "title": "Rest Wavelength (Å)", "titleFontSize": 25, "titleX": 278, "titleY": 66, "titleBaseline": "alphabetic", "titleAlign": "center"}},
         "y": {"field": "r", "type": "quantitative", "scale": {"domain": [-5.2, 5.2], "nice": false, "zero": false},
           "axis": {"values": [-5,-4,-3,-2,-1,0,1,2,3,4,5], "labelExpr": "datum.value % 5 === 0 ? replace(format(datum.value, 'd'), '-', '−') : ''", "labelOverlap": false, "tickSize": {"condition": {"test": "datum.value % 5 === 0", "value": -6}, "value": -3}, "labelPadding": 10, "labelFontSize": 12, "title": null}}}}
     ]},
     {"width": 211, "height": 34, "layer": [
       {"data": {"name": "ciii"}, "mark": {"type": "line", "color": "#808080", "strokeWidth": 1.4, "clip": true},
        "encoding": {"x": {"field": "w", "type": "quantitative", "scale": {"domain": [1780, 2040], "nice": false, "zero": false},
           "axis": {"values": [1780,1806,1832,1858,1884,1910,1936,1962,1988,2014,2040], "format": "d", "labelExpr": "(datum.value - 1780) % 130 === 0 ? datum.label : ''", "labelOverlap": false, "tickSize": {"condition": {"test": "(datum.value - 1780) % 130 === 0", "value": -7}, "value": -4}, "labelPadding": 14, "labelFontSize": 19, "title": null}},
         "y": {"field": "r", "type": "quantitative", "scale": {"domain": [-5.2, 5.2], "nice": false, "zero": false},
           "axis": {"values": [-5,-4,-3,-2,-1,0,1,2,3,4,5], "labelExpr": "datum.value % 5 === 0 ? replace(format(datum.value, 'd'), '-', '−') : ''", "labelOverlap": false, "tickSize": {"condition": {"test": "datum.value % 5 === 0", "value": -6}, "value": -3}, "labelPadding": 10, "labelFontSize": 12, "title": null}}}}
     ]},
     {"width": 211, "height": 34, "layer": [
       {"data": {"name": "mgii"}, "mark": {"type": "line", "color": "#808080", "strokeWidth": 1.4, "clip": true},
        "encoding": {"x": {"field": "w", "type": "quantitative", "scale": {"domain": [2630, 2970], "nice": false, "zero": false},
           "axis": {"values": [2630,2664,2698,2732,2766,2800,2834,2868,2902,2936,2970], "format": "d", "labelExpr": "(datum.value - 2630) % 170 === 0 ? datum.label : ''", "labelOverlap": false, "tickSize": {"condition": {"test": "(datum.value - 2630) % 170 === 0", "value": -7}, "value": -4}, "labelPadding": 14, "labelFontSize": 19, "title": null}},
         "y": {"field": "r", "type": "quantitative", "scale": {"domain": [-5.2, 5.2], "nice": false, "zero": false},
           "axis": {"values": [-5,-4,-3,-2,-1,0,1,2,3,4,5], "labelExpr": "datum.value % 5 === 0 ? replace(format(datum.value, 'd'), '-', '−') : ''", "labelOverlap": false, "tickSize": {"condition": {"test": "datum.value % 5 === 0", "value": -6}, "value": -3}, "labelPadding": 10, "labelFontSize": 12, "title": null}}}}
     ]}
  ]
 }
]
}
